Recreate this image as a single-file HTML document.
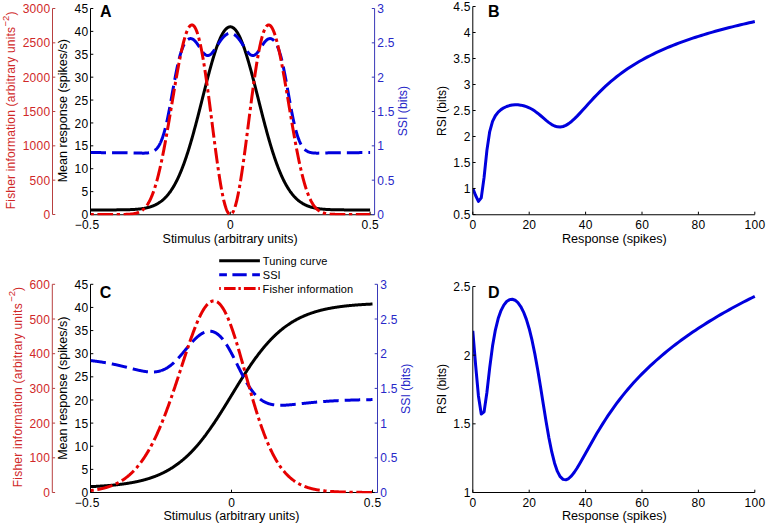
<!DOCTYPE html>
<html><head><meta charset="utf-8"><style>html,body{margin:0;padding:0;background:#fff;overflow:hidden;}svg text{font-family:"Liberation Sans",sans-serif;}</style></head>
<body>
<svg width="767" height="525" viewBox="0 0 767 525" style="display:block">
<rect width="767" height="525" fill="#fff"/>
<g fill="none" stroke-width="1">
<path d="M90.5 8.5 V214.75 H374.6" stroke="#000"/>
<path d="M90.5 214.5 h2.8" stroke="#000"/>
<path d="M90.5 191.61 h2.8" stroke="#000"/>
<path d="M90.5 168.72 h2.8" stroke="#000"/>
<path d="M90.5 145.83 h2.8" stroke="#000"/>
<path d="M90.5 122.94 h2.8" stroke="#000"/>
<path d="M90.5 100.06 h2.8" stroke="#000"/>
<path d="M90.5 77.17 h2.8" stroke="#000"/>
<path d="M90.5 54.28 h2.8" stroke="#000"/>
<path d="M90.5 31.39 h2.8" stroke="#000"/>
<path d="M90.5 8.5 h2.8" stroke="#000"/>
<path d="M90.5 214.5 v-2.8" stroke="#000"/>
<path d="M230.3 214.5 v-2.8" stroke="#000"/>
<path d="M370.1 214.5 v-2.8" stroke="#000"/>
<path d="M52.5 8.5 V214.5" stroke="#b84040"/>
<path d="M52.5 214.5 h2.8" stroke="#b84040"/>
<path d="M52.5 180.17 h2.8" stroke="#b84040"/>
<path d="M52.5 145.83 h2.8" stroke="#b84040"/>
<path d="M52.5 111.5 h2.8" stroke="#b84040"/>
<path d="M52.5 77.17 h2.8" stroke="#b84040"/>
<path d="M52.5 42.83 h2.8" stroke="#b84040"/>
<path d="M52.5 8.5 h2.8" stroke="#b84040"/>
<path d="M374.6 8.5 V214.5" stroke="#3838b8"/>
<path d="M374.6 214.5 h-2.8" stroke="#3838b8"/>
<path d="M374.6 180.17 h-2.8" stroke="#3838b8"/>
<path d="M374.6 145.83 h-2.8" stroke="#3838b8"/>
<path d="M374.6 111.5 h-2.8" stroke="#3838b8"/>
<path d="M374.6 77.17 h-2.8" stroke="#3838b8"/>
<path d="M374.6 42.83 h-2.8" stroke="#3838b8"/>
<path d="M374.6 8.5 h-2.8" stroke="#3838b8"/>
</g>
<clipPath id="clipA"><rect x="90.5" y="-1.5" width="284.1" height="216.8"/></clipPath>
<g clip-path="url(#clipA)" fill="none" stroke-linejoin="round">
<path d="M90.5 209.92 L90.85 209.92 L91.2 209.92 L91.55 209.92 L91.9 209.92 L92.25 209.92 L92.6 209.92 L92.95 209.92 L93.3 209.92 L93.65 209.92 L94 209.92 L94.34 209.92 L94.69 209.92 L95.04 209.92 L95.39 209.92 L95.74 209.92 L96.09 209.92 L96.44 209.92 L96.79 209.92 L97.14 209.92 L97.49 209.92 L97.84 209.92 L98.19 209.92 L98.54 209.92 L98.89 209.92 L99.24 209.92 L99.59 209.92 L99.94 209.92 L100.29 209.92 L100.64 209.92 L100.98 209.92 L101.33 209.92 L101.68 209.92 L102.03 209.92 L102.38 209.92 L102.73 209.92 L103.08 209.92 L103.43 209.92 L103.78 209.92 L104.13 209.92 L104.48 209.91 L104.83 209.91 L105.18 209.91 L105.53 209.91 L105.88 209.91 L106.23 209.91 L106.58 209.91 L106.93 209.91 L107.28 209.91 L107.63 209.91 L107.97 209.91 L108.32 209.91 L108.67 209.91 L109.02 209.91 L109.37 209.91 L109.72 209.91 L110.07 209.9 L110.42 209.9 L110.77 209.9 L111.12 209.9 L111.47 209.9 L111.82 209.9 L112.17 209.9 L112.52 209.9 L112.87 209.9 L113.22 209.89 L113.57 209.89 L113.92 209.89 L114.27 209.89 L114.62 209.89 L114.97 209.89 L115.31 209.88 L115.66 209.88 L116.01 209.88 L116.36 209.88 L116.71 209.87 L117.06 209.87 L117.41 209.87 L117.76 209.87 L118.11 209.86 L118.46 209.86 L118.81 209.86 L119.16 209.85 L119.51 209.85 L119.86 209.85 L120.21 209.84 L120.56 209.84 L120.91 209.84 L121.26 209.83 L121.61 209.83 L121.95 209.82 L122.3 209.82 L122.65 209.81 L123 209.81 L123.35 209.8 L123.7 209.79 L124.05 209.79 L124.4 209.78 L124.75 209.77 L125.1 209.77 L125.45 209.76 L125.8 209.75 L126.15 209.74 L126.5 209.74 L126.85 209.73 L127.2 209.72 L127.55 209.71 L127.9 209.7 L128.25 209.69 L128.6 209.68 L128.94 209.67 L129.29 209.65 L129.64 209.64 L129.99 209.63 L130.34 209.62 L130.69 209.6 L131.04 209.59 L131.39 209.57 L131.74 209.56 L132.09 209.54 L132.44 209.52 L132.79 209.5 L133.14 209.49 L133.49 209.47 L133.84 209.45 L134.19 209.42 L134.54 209.4 L134.89 209.38 L135.24 209.36 L135.59 209.33 L135.94 209.31 L136.28 209.28 L136.63 209.25 L136.98 209.22 L137.33 209.19 L137.68 209.16 L138.03 209.13 L138.38 209.1 L138.73 209.06 L139.08 209.03 L139.43 208.99 L139.78 208.95 L140.13 208.91 L140.48 208.87 L140.83 208.83 L141.18 208.78 L141.53 208.74 L141.88 208.69 L142.23 208.64 L142.58 208.59 L142.93 208.54 L143.27 208.48 L143.62 208.42 L143.97 208.36 L144.32 208.3 L144.67 208.24 L145.02 208.17 L145.37 208.11 L145.72 208.04 L146.07 207.96 L146.42 207.89 L146.77 207.81 L147.12 207.73 L147.47 207.65 L147.82 207.56 L148.17 207.47 L148.52 207.38 L148.87 207.29 L149.22 207.19 L149.57 207.09 L149.92 206.99 L150.26 206.88 L150.61 206.77 L150.96 206.65 L151.31 206.54 L151.66 206.41 L152.01 206.29 L152.36 206.16 L152.71 206.03 L153.06 205.89 L153.41 205.75 L153.76 205.6 L154.11 205.45 L154.46 205.3 L154.81 205.14 L155.16 204.98 L155.51 204.81 L155.86 204.63 L156.21 204.45 L156.56 204.27 L156.91 204.08 L157.25 203.89 L157.6 203.69 L157.95 203.48 L158.3 203.27 L158.65 203.05 L159 202.83 L159.35 202.6 L159.7 202.37 L160.05 202.13 L160.4 201.88 L160.75 201.62 L161.1 201.36 L161.45 201.09 L161.8 200.82 L162.15 200.53 L162.5 200.24 L162.85 199.95 L163.2 199.64 L163.55 199.33 L163.9 199.01 L164.24 198.68 L164.59 198.35 L164.94 198 L165.29 197.65 L165.64 197.29 L165.99 196.92 L166.34 196.54 L166.69 196.16 L167.04 195.76 L167.39 195.35 L167.74 194.94 L168.09 194.52 L168.44 194.08 L168.79 193.64 L169.14 193.19 L169.49 192.72 L169.84 192.25 L170.19 191.77 L170.54 191.28 L170.89 190.77 L171.23 190.26 L171.58 189.73 L171.93 189.2 L172.28 188.65 L172.63 188.1 L172.98 187.53 L173.33 186.95 L173.68 186.36 L174.03 185.75 L174.38 185.14 L174.73 184.52 L175.08 183.88 L175.43 183.23 L175.78 182.57 L176.13 181.9 L176.48 181.21 L176.83 180.51 L177.18 179.81 L177.53 179.08 L177.88 178.35 L178.22 177.6 L178.57 176.85 L178.92 176.07 L179.27 175.29 L179.62 174.49 L179.97 173.68 L180.32 172.86 L180.67 172.03 L181.02 171.18 L181.37 170.32 L181.72 169.45 L182.07 168.56 L182.42 167.67 L182.77 166.75 L183.12 165.83 L183.47 164.89 L183.82 163.95 L184.17 162.98 L184.52 162.01 L184.87 161.02 L185.21 160.02 L185.56 159.01 L185.91 157.99 L186.26 156.95 L186.61 155.9 L186.96 154.84 L187.31 153.77 L187.66 152.68 L188.01 151.58 L188.36 150.47 L188.71 149.35 L189.06 148.22 L189.41 147.08 L189.76 145.92 L190.11 144.76 L190.46 143.58 L190.81 142.4 L191.16 141.2 L191.51 139.99 L191.86 138.77 L192.2 137.55 L192.55 136.31 L192.9 135.06 L193.25 133.8 L193.6 132.54 L193.95 131.27 L194.3 129.98 L194.65 128.69 L195 127.39 L195.35 126.09 L195.7 124.77 L196.05 123.45 L196.4 122.13 L196.75 120.79 L197.1 119.45 L197.45 118.11 L197.8 116.76 L198.15 115.4 L198.5 114.04 L198.85 112.67 L199.19 111.3 L199.54 109.93 L199.89 108.55 L200.24 107.17 L200.59 105.79 L200.94 104.41 L201.29 103.02 L201.64 101.64 L201.99 100.25 L202.34 98.86 L202.69 97.47 L203.04 96.08 L203.39 94.7 L203.74 93.31 L204.09 91.93 L204.44 90.55 L204.79 89.17 L205.14 87.79 L205.49 86.42 L205.84 85.05 L206.18 83.69 L206.53 82.33 L206.88 80.98 L207.23 79.63 L207.58 78.29 L207.93 76.96 L208.28 75.63 L208.63 74.31 L208.98 73 L209.33 71.7 L209.68 70.41 L210.03 69.13 L210.38 67.86 L210.73 66.6 L211.08 65.35 L211.43 64.12 L211.78 62.89 L212.13 61.68 L212.48 60.48 L212.83 59.3 L213.17 58.13 L213.52 56.97 L213.87 55.84 L214.22 54.71 L214.57 53.6 L214.92 52.51 L215.27 51.44 L215.62 50.38 L215.97 49.35 L216.32 48.33 L216.67 47.33 L217.02 46.35 L217.37 45.38 L217.72 44.44 L218.07 43.52 L218.42 42.62 L218.77 41.75 L219.12 40.89 L219.47 40.06 L219.82 39.24 L220.16 38.46 L220.51 37.69 L220.86 36.95 L221.21 36.23 L221.56 35.54 L221.91 34.87 L222.26 34.22 L222.61 33.61 L222.96 33.01 L223.31 32.44 L223.66 31.9 L224.01 31.39 L224.36 30.9 L224.71 30.44 L225.06 30 L225.41 29.59 L225.76 29.21 L226.11 28.86 L226.46 28.53 L226.81 28.24 L227.15 27.97 L227.5 27.72 L227.85 27.51 L228.2 27.33 L228.55 27.17 L228.9 27.04 L229.25 26.94 L229.6 26.87 L229.95 26.83 L230.3 26.81 L230.65 26.83 L231 26.87 L231.35 26.94 L231.7 27.04 L232.05 27.17 L232.4 27.33 L232.75 27.51 L233.1 27.72 L233.45 27.97 L233.79 28.24 L234.14 28.53 L234.49 28.86 L234.84 29.21 L235.19 29.59 L235.54 30 L235.89 30.44 L236.24 30.9 L236.59 31.39 L236.94 31.9 L237.29 32.44 L237.64 33.01 L237.99 33.61 L238.34 34.22 L238.69 34.87 L239.04 35.54 L239.39 36.23 L239.74 36.95 L240.09 37.69 L240.44 38.46 L240.78 39.24 L241.13 40.06 L241.48 40.89 L241.83 41.75 L242.18 42.62 L242.53 43.52 L242.88 44.44 L243.23 45.38 L243.58 46.35 L243.93 47.33 L244.28 48.33 L244.63 49.35 L244.98 50.38 L245.33 51.44 L245.68 52.51 L246.03 53.6 L246.38 54.71 L246.73 55.84 L247.08 56.97 L247.43 58.13 L247.78 59.3 L248.12 60.48 L248.47 61.68 L248.82 62.89 L249.17 64.12 L249.52 65.35 L249.87 66.6 L250.22 67.86 L250.57 69.13 L250.92 70.41 L251.27 71.7 L251.62 73 L251.97 74.31 L252.32 75.63 L252.67 76.96 L253.02 78.29 L253.37 79.63 L253.72 80.98 L254.07 82.33 L254.42 83.69 L254.77 85.05 L255.11 86.42 L255.46 87.79 L255.81 89.17 L256.16 90.55 L256.51 91.93 L256.86 93.31 L257.21 94.7 L257.56 96.08 L257.91 97.47 L258.26 98.86 L258.61 100.25 L258.96 101.64 L259.31 103.02 L259.66 104.41 L260.01 105.79 L260.36 107.17 L260.71 108.55 L261.06 109.93 L261.41 111.3 L261.75 112.67 L262.1 114.04 L262.45 115.4 L262.8 116.76 L263.15 118.11 L263.5 119.45 L263.85 120.79 L264.2 122.13 L264.55 123.45 L264.9 124.77 L265.25 126.09 L265.6 127.39 L265.95 128.69 L266.3 129.98 L266.65 131.27 L267 132.54 L267.35 133.8 L267.7 135.06 L268.05 136.31 L268.4 137.55 L268.75 138.77 L269.09 139.99 L269.44 141.2 L269.79 142.4 L270.14 143.58 L270.49 144.76 L270.84 145.92 L271.19 147.08 L271.54 148.22 L271.89 149.35 L272.24 150.47 L272.59 151.58 L272.94 152.68 L273.29 153.77 L273.64 154.84 L273.99 155.9 L274.34 156.95 L274.69 157.99 L275.04 159.01 L275.39 160.02 L275.74 161.02 L276.08 162.01 L276.43 162.98 L276.78 163.95 L277.13 164.89 L277.48 165.83 L277.83 166.75 L278.18 167.67 L278.53 168.56 L278.88 169.45 L279.23 170.32 L279.58 171.18 L279.93 172.03 L280.28 172.86 L280.63 173.68 L280.98 174.49 L281.33 175.29 L281.68 176.07 L282.03 176.85 L282.38 177.6 L282.73 178.35 L283.07 179.08 L283.42 179.81 L283.77 180.51 L284.12 181.21 L284.47 181.9 L284.82 182.57 L285.17 183.23 L285.52 183.88 L285.87 184.52 L286.22 185.14 L286.57 185.75 L286.92 186.36 L287.27 186.95 L287.62 187.53 L287.97 188.1 L288.32 188.65 L288.67 189.2 L289.02 189.73 L289.37 190.26 L289.72 190.77 L290.06 191.28 L290.41 191.77 L290.76 192.25 L291.11 192.72 L291.46 193.19 L291.81 193.64 L292.16 194.08 L292.51 194.52 L292.86 194.94 L293.21 195.35 L293.56 195.76 L293.91 196.16 L294.26 196.54 L294.61 196.92 L294.96 197.29 L295.31 197.65 L295.66 198 L296.01 198.35 L296.36 198.68 L296.71 199.01 L297.05 199.33 L297.4 199.64 L297.75 199.95 L298.1 200.24 L298.45 200.53 L298.8 200.82 L299.15 201.09 L299.5 201.36 L299.85 201.62 L300.2 201.88 L300.55 202.13 L300.9 202.37 L301.25 202.6 L301.6 202.83 L301.95 203.05 L302.3 203.27 L302.65 203.48 L303 203.69 L303.35 203.89 L303.7 204.08 L304.04 204.27 L304.39 204.45 L304.74 204.63 L305.09 204.81 L305.44 204.98 L305.79 205.14 L306.14 205.3 L306.49 205.45 L306.84 205.6 L307.19 205.75 L307.54 205.89 L307.89 206.03 L308.24 206.16 L308.59 206.29 L308.94 206.41 L309.29 206.54 L309.64 206.65 L309.99 206.77 L310.34 206.88 L310.69 206.99 L311.03 207.09 L311.38 207.19 L311.73 207.29 L312.08 207.38 L312.43 207.47 L312.78 207.56 L313.13 207.65 L313.48 207.73 L313.83 207.81 L314.18 207.89 L314.53 207.96 L314.88 208.04 L315.23 208.11 L315.58 208.17 L315.93 208.24 L316.28 208.3 L316.63 208.36 L316.98 208.42 L317.33 208.48 L317.68 208.54 L318.02 208.59 L318.37 208.64 L318.72 208.69 L319.07 208.74 L319.42 208.78 L319.77 208.83 L320.12 208.87 L320.47 208.91 L320.82 208.95 L321.17 208.99 L321.52 209.03 L321.87 209.06 L322.22 209.1 L322.57 209.13 L322.92 209.16 L323.27 209.19 L323.62 209.22 L323.97 209.25 L324.32 209.28 L324.67 209.31 L325.01 209.33 L325.36 209.36 L325.71 209.38 L326.06 209.4 L326.41 209.42 L326.76 209.45 L327.11 209.47 L327.46 209.49 L327.81 209.5 L328.16 209.52 L328.51 209.54 L328.86 209.56 L329.21 209.57 L329.56 209.59 L329.91 209.6 L330.26 209.62 L330.61 209.63 L330.96 209.64 L331.31 209.65 L331.66 209.67 L332 209.68 L332.35 209.69 L332.7 209.7 L333.05 209.71 L333.4 209.72 L333.75 209.73 L334.1 209.74 L334.45 209.74 L334.8 209.75 L335.15 209.76 L335.5 209.77 L335.85 209.77 L336.2 209.78 L336.55 209.79 L336.9 209.79 L337.25 209.8 L337.6 209.81 L337.95 209.81 L338.3 209.82 L338.65 209.82 L338.99 209.83 L339.34 209.83 L339.69 209.84 L340.04 209.84 L340.39 209.84 L340.74 209.85 L341.09 209.85 L341.44 209.85 L341.79 209.86 L342.14 209.86 L342.49 209.86 L342.84 209.87 L343.19 209.87 L343.54 209.87 L343.89 209.87 L344.24 209.88 L344.59 209.88 L344.94 209.88 L345.29 209.88 L345.63 209.89 L345.98 209.89 L346.33 209.89 L346.68 209.89 L347.03 209.89 L347.38 209.89 L347.73 209.9 L348.08 209.9 L348.43 209.9 L348.78 209.9 L349.13 209.9 L349.48 209.9 L349.83 209.9 L350.18 209.9 L350.53 209.9 L350.88 209.91 L351.23 209.91 L351.58 209.91 L351.93 209.91 L352.28 209.91 L352.62 209.91 L352.97 209.91 L353.32 209.91 L353.67 209.91 L354.02 209.91 L354.37 209.91 L354.72 209.91 L355.07 209.91 L355.42 209.91 L355.77 209.91 L356.12 209.91 L356.47 209.92 L356.82 209.92 L357.17 209.92 L357.52 209.92 L357.87 209.92 L358.22 209.92 L358.57 209.92 L358.92 209.92 L359.27 209.92 L359.62 209.92 L359.96 209.92 L360.31 209.92 L360.66 209.92 L361.01 209.92 L361.36 209.92 L361.71 209.92 L362.06 209.92 L362.41 209.92 L362.76 209.92 L363.11 209.92 L363.46 209.92 L363.81 209.92 L364.16 209.92 L364.51 209.92 L364.86 209.92 L365.21 209.92 L365.56 209.92 L365.91 209.92 L366.26 209.92 L366.61 209.92 L366.95 209.92 L367.3 209.92 L367.65 209.92 L368 209.92 L368.35 209.92 L368.7 209.92 L369.05 209.92 L369.4 209.92 L369.75 209.92 L370.1 209.92" stroke="#000" stroke-width="3"/>
<path d="M90.5 152.62 L90.85 152.62 L91.2 152.62 L91.55 152.62 L91.9 152.62 L92.25 152.62 L92.6 152.62 L92.95 152.62 L93.3 152.62 L93.65 152.62 L94 152.62 L94.34 152.62 L94.69 152.62 L95.04 152.62 L95.39 152.62 L95.74 152.62 L96.09 152.62 L96.44 152.62 L96.79 152.62 L97.14 152.62 L97.49 152.62 L97.84 152.62 L98.19 152.62 L98.54 152.62 L98.89 152.62 L99.24 152.62 L99.59 152.62 L99.94 152.62 L100.29 152.62 L100.64 152.62 L100.98 152.62 L101.33 152.63 L101.68 152.63 L102.03 152.63 L102.38 152.63 L102.73 152.63 L103.08 152.63 L103.43 152.63 L103.78 152.63 L104.13 152.63 L104.48 152.63 L104.83 152.63 L105.18 152.63 L105.53 152.63 L105.88 152.63 L106.23 152.63 L106.58 152.63 L106.93 152.63 L107.28 152.63 L107.63 152.63 L107.97 152.63 L108.32 152.63 L108.67 152.63 L109.02 152.63 L109.37 152.63 L109.72 152.63 L110.07 152.63 L110.42 152.63 L110.77 152.64 L111.12 152.64 L111.47 152.64 L111.82 152.64 L112.17 152.64 L112.52 152.64 L112.87 152.64 L113.22 152.64 L113.57 152.64 L113.92 152.64 L114.27 152.65 L114.62 152.65 L114.97 152.65 L115.31 152.65 L115.66 152.65 L116.01 152.65 L116.36 152.65 L116.71 152.65 L117.06 152.66 L117.41 152.66 L117.76 152.66 L118.11 152.66 L118.46 152.66 L118.81 152.67 L119.16 152.67 L119.51 152.67 L119.86 152.67 L120.21 152.68 L120.56 152.68 L120.91 152.68 L121.26 152.68 L121.61 152.69 L121.95 152.69 L122.3 152.69 L122.65 152.7 L123 152.7 L123.35 152.7 L123.7 152.71 L124.05 152.71 L124.4 152.72 L124.75 152.72 L125.1 152.72 L125.45 152.73 L125.8 152.73 L126.15 152.74 L126.5 152.74 L126.85 152.75 L127.2 152.75 L127.55 152.76 L127.9 152.77 L128.25 152.77 L128.6 152.78 L128.94 152.79 L129.29 152.79 L129.64 152.8 L129.99 152.81 L130.34 152.81 L130.69 152.82 L131.04 152.83 L131.39 152.84 L131.74 152.85 L132.09 152.86 L132.44 152.86 L132.79 152.87 L133.14 152.88 L133.49 152.89 L133.84 152.9 L134.19 152.91 L134.54 152.92 L134.89 152.93 L135.24 152.94 L135.59 152.95 L135.94 152.96 L136.28 152.97 L136.63 152.98 L136.98 152.99 L137.33 153.01 L137.68 153.02 L138.03 153.03 L138.38 153.04 L138.73 153.05 L139.08 153.06 L139.43 153.07 L139.78 153.08 L140.13 153.09 L140.48 153.09 L140.83 153.1 L141.18 153.11 L141.53 153.12 L141.88 153.12 L142.23 153.13 L142.58 153.13 L142.93 153.13 L143.27 153.13 L143.62 153.13 L143.97 153.13 L144.32 153.13 L144.67 153.12 L145.02 153.11 L145.37 153.1 L145.72 153.08 L146.07 153.07 L146.42 153.05 L146.77 153.02 L147.12 152.99 L147.47 152.96 L147.82 152.92 L148.17 152.88 L148.52 152.83 L148.87 152.78 L149.22 152.72 L149.57 152.65 L149.92 152.58 L150.26 152.49 L150.61 152.4 L150.96 152.3 L151.31 152.19 L151.66 152.07 L152.01 151.94 L152.36 151.79 L152.71 151.63 L153.06 151.46 L153.41 151.27 L153.76 151.07 L154.11 150.85 L154.46 150.62 L154.81 150.36 L155.16 150.09 L155.51 149.79 L155.86 149.48 L156.21 149.14 L156.56 148.77 L156.91 148.38 L157.25 147.97 L157.6 147.52 L157.95 147.05 L158.3 146.54 L158.65 146.01 L159 145.44 L159.35 144.84 L159.7 144.2 L160.05 143.52 L160.4 142.8" stroke="#0000dd" stroke-width="3" stroke-dasharray="15.5 6.05"/>
<path d="M160.4 142.8 L160.75 142.05 L161.1 141.26 L161.45 140.42 L161.8 139.54 L162.15 138.62 L162.5 137.65 L162.85 136.63 L163.2 135.58 L163.55 134.47 L163.9 133.32 L164.24 132.11 L164.59 130.87 L164.94 129.57 L165.29 128.23 L165.64 126.84 L165.99 125.4 L166.34 123.91 L166.69 122.39 L167.04 120.81 L167.39 119.2 L167.74 117.54 L168.09 115.85 L168.44 114.11 L168.79 112.35 L169.14 110.54 L169.49 108.71 L169.84 106.86 L170.19 104.97 L170.54 103.07 L170.89 101.14 L171.23 99.2 L171.58 97.25 L171.93 95.3 L172.28 93.33 L172.63 91.37 L172.98 89.41 L173.33 87.45 L173.68 85.51 L174.03 83.58 L174.38 81.67 L174.73 79.77 L175.08 77.91 L175.43 76.06 L175.78 74.25 L176.13 72.48 L176.48 70.74 L176.83 69.03 L177.18 67.37 L177.53 65.75 L177.88 64.18 L178.22 62.65 L178.57 61.17 L178.92 59.74 L179.27 58.35 L179.62 57.02 L179.97 55.74 L180.32 54.51 L180.67 53.34 L181.02 52.21 L181.37 51.13 L181.72 50.11 L182.07 49.13 L182.42 48.21 L182.77 47.33 L183.12 46.51 L183.47 45.72 L183.82 44.99 L184.17 44.3 L184.52 43.66 L184.87 43.05 L185.21 42.49 L185.56 41.98 L185.91 41.5 L186.26 41.06 L186.61 40.66 L186.96 40.29 L187.31 39.97 L187.66 39.68 L188.01 39.42 L188.36 39.21 L188.71 39.02 L189.06 38.87 L189.41 38.75 L189.76 38.66 L190.11 38.61 L190.46 38.59 L190.81 38.6 L191.16 38.64 L191.51 38.71 L191.86 38.82 L192.2 38.95 L192.55 39.11 L192.9 39.31 L193.25 39.53 L193.6 39.78 L193.95 40.05 L194.3 40.36 L194.65 40.69 L195 41.04 L195.35 41.42 L195.7 41.82 L196.05 42.25 L196.4 42.69 L196.75 43.16 L197.1 43.64 L197.45 44.14 L197.8 44.65 L198.15 45.17 L198.5 45.7 L198.85 46.24 L199.19 46.79 L199.54 47.33 L199.89 47.88 L200.24 48.43 L200.59 48.97 L200.94 49.51 L201.29 50.03 L201.64 50.55 L201.99 51.05 L202.34 51.53 L202.69 51.99 L203.04 52.44 L203.39 52.86 L203.74 53.25 L204.09 53.62 L204.44 53.96 L204.79 54.27 L205.14 54.55 L205.49 54.79 L205.84 55 L206.18 55.17 L206.53 55.31 L206.88 55.42 L207.23 55.49 L207.58 55.52 L207.93 55.51 L208.28 55.47 L208.63 55.39 L208.98 55.28 L209.33 55.14 L209.68 54.96 L210.03 54.75 L210.38 54.51 L210.73 54.23 L211.08 53.93 L211.43 53.6 L211.78 53.25 L212.13 52.87 L212.48 52.47 L212.83 52.05 L213.17 51.61 L213.52 51.15 L213.87 50.68 L214.22 50.19 L214.57 49.68 L214.92 49.17 L215.27 48.65 L215.62 48.12 L215.97 47.58 L216.32 47.04 L216.67 46.5 L217.02 45.95 L217.37 45.41 L217.72 44.86 L218.07 44.32 L218.42 43.78 L218.77 43.24 L219.12 42.72 L219.47 42.19 L219.82 41.68 L220.16 41.17 L220.51 40.68 L220.86 40.19 L221.21 39.72 L221.56 39.26 L221.91 38.81 L222.26 38.38 L222.61 37.96 L222.96 37.56 L223.31 37.17 L223.66 36.79 L224.01 36.44 L224.36 36.1 L224.71 35.78 L225.06 35.47 L225.41 35.19 L225.76 34.92 L226.11 34.67 L226.46 34.44 L226.81 34.23 L227.15 34.04 L227.5 33.87 L227.85 33.72 L228.2 33.58 L228.55 33.47 L228.9 33.38 L229.25 33.31 L229.6 33.26 L229.95 33.23 L230.3 33.22 L230.65 33.23 L231 33.26 L231.35 33.31 L231.7 33.38 L232.05 33.47 L232.4 33.58 L232.75 33.72 L233.1 33.87 L233.45 34.04 L233.79 34.23 L234.14 34.44 L234.49 34.67 L234.84 34.92 L235.19 35.19 L235.54 35.47 L235.89 35.78 L236.24 36.1 L236.59 36.44 L236.94 36.79 L237.29 37.17 L237.64 37.56 L237.99 37.96 L238.34 38.38 L238.69 38.81 L239.04 39.26 L239.39 39.72 L239.74 40.19 L240.09 40.68 L240.44 41.17 L240.78 41.68 L241.13 42.19 L241.48 42.72 L241.83 43.24 L242.18 43.78 L242.53 44.32 L242.88 44.86 L243.23 45.41 L243.58 45.95 L243.93 46.5 L244.28 47.04 L244.63 47.58 L244.98 48.12 L245.33 48.65 L245.68 49.17 L246.03 49.68 L246.38 50.19 L246.73 50.68 L247.08 51.15 L247.43 51.61 L247.78 52.05 L248.12 52.47 L248.47 52.87 L248.82 53.25 L249.17 53.6 L249.52 53.93 L249.87 54.23 L250.22 54.51 L250.57 54.75 L250.92 54.96 L251.27 55.14 L251.62 55.28 L251.97 55.39 L252.32 55.47 L252.67 55.51 L253.02 55.52 L253.37 55.49 L253.72 55.42 L254.07 55.31 L254.42 55.17 L254.77 55 L255.11 54.79 L255.46 54.55 L255.81 54.27 L256.16 53.96 L256.51 53.62 L256.86 53.25 L257.21 52.86 L257.56 52.44 L257.91 51.99 L258.26 51.53 L258.61 51.05 L258.96 50.55 L259.31 50.03 L259.66 49.51 L260.01 48.97 L260.36 48.43 L260.71 47.88 L261.06 47.33 L261.41 46.79 L261.75 46.24 L262.1 45.7 L262.45 45.17 L262.8 44.65 L263.15 44.14 L263.5 43.64 L263.85 43.16 L264.2 42.69 L264.55 42.25 L264.9 41.82 L265.25 41.42 L265.6 41.04 L265.95 40.69 L266.3 40.36 L266.65 40.05 L267 39.78 L267.35 39.53 L267.7 39.31 L268.05 39.11 L268.4 38.95 L268.75 38.82 L269.09 38.71 L269.44 38.64 L269.79 38.6 L270.14 38.59 L270.49 38.61 L270.84 38.66 L271.19 38.75 L271.54 38.87 L271.89 39.02 L272.24 39.21 L272.59 39.42 L272.94 39.68 L273.29 39.97 L273.64 40.29 L273.99 40.66 L274.34 41.06 L274.69 41.5 L275.04 41.98 L275.39 42.49 L275.74 43.05 L276.08 43.66 L276.43 44.3 L276.78 44.99 L277.13 45.72 L277.48 46.51 L277.83 47.33 L278.18 48.21 L278.53 49.13 L278.88 50.11 L279.23 51.13 L279.58 52.21 L279.93 53.34 L280.28 54.51 L280.63 55.74 L280.98 57.02 L281.33 58.35 L281.68 59.74 L282.03 61.17 L282.38 62.65 L282.73 64.18 L283.07 65.75 L283.42 67.37 L283.77 69.03 L284.12 70.74 L284.47 72.48 L284.82 74.25 L285.17 76.06 L285.52 77.91 L285.87 79.77 L286.22 81.67 L286.57 83.58 L286.92 85.51 L287.27 87.45 L287.62 89.41 L287.97 91.37 L288.32 93.33 L288.67 95.3 L289.02 97.25 L289.37 99.2 L289.72 101.14 L290.06 103.07 L290.41 104.97 L290.76 106.86 L291.11 108.71 L291.46 110.54 L291.81 112.35 L292.16 114.11 L292.51 115.85 L292.86 117.54 L293.21 119.2 L293.56 120.81 L293.91 122.39 L294.26 123.91 L294.61 125.4 L294.96 126.84 L295.31 128.23 L295.66 129.57 L296.01 130.87 L296.36 132.11 L296.71 133.32 L297.05 134.47 L297.4 135.58 L297.75 136.63 L298.1 137.65 L298.45 138.62 L298.8 139.54 L299.15 140.42 L299.5 141.26 L299.85 142.05 L300.2 142.8 L300.55 143.52 L300.9 144.2 L301.25 144.84 L301.6 145.44 L301.95 146.01 L302.3 146.54 L302.65 147.05 L303 147.52 L303.35 147.97 L303.7 148.38 L304.04 148.77 L304.39 149.14 L304.74 149.48 L305.09 149.79 L305.44 150.09 L305.79 150.36 L306.14 150.62 L306.49 150.85 L306.84 151.07 L307.19 151.27 L307.54 151.46 L307.89 151.63 L308.24 151.79 L308.59 151.94 L308.94 152.07 L309.29 152.19 L309.64 152.3 L309.99 152.4 L310.34 152.49 L310.69 152.58 L311.03 152.65 L311.38 152.72 L311.73 152.78 L312.08 152.83 L312.43 152.88 L312.78 152.92 L313.13 152.96 L313.48 152.99 L313.83 153.02 L314.18 153.05 L314.53 153.07 L314.88 153.08 L315.23 153.1 L315.58 153.11 L315.93 153.12 L316.28 153.13 L316.63 153.13 L316.98 153.13 L317.33 153.13 L317.68 153.13 L318.02 153.13 L318.37 153.13 L318.72 153.12 L319.07 153.12 L319.42 153.11 L319.77 153.1 L320.12 153.09 L320.47 153.09 L320.82 153.08 L321.17 153.07 L321.52 153.06 L321.87 153.05 L322.22 153.04 L322.57 153.03 L322.92 153.02 L323.27 153.01 L323.62 152.99 L323.97 152.98 L324.32 152.97 L324.67 152.96 L325.01 152.95 L325.36 152.94 L325.71 152.93 L326.06 152.92 L326.41 152.91 L326.76 152.9 L327.11 152.89 L327.46 152.88 L327.81 152.87 L328.16 152.86 L328.51 152.86 L328.86 152.85 L329.21 152.84 L329.56 152.83 L329.91 152.82 L330.26 152.81 L330.61 152.81 L330.96 152.8 L331.31 152.79 L331.66 152.79 L332 152.78 L332.35 152.77 L332.7 152.77 L333.05 152.76 L333.4 152.75 L333.75 152.75 L334.1 152.74 L334.45 152.74 L334.8 152.73 L335.15 152.73 L335.5 152.72 L335.85 152.72 L336.2 152.72 L336.55 152.71 L336.9 152.71 L337.25 152.7 L337.6 152.7 L337.95 152.7 L338.3 152.69 L338.65 152.69 L338.99 152.69 L339.34 152.68 L339.69 152.68 L340.04 152.68 L340.39 152.68 L340.74 152.67 L341.09 152.67 L341.44 152.67 L341.79 152.67 L342.14 152.66 L342.49 152.66 L342.84 152.66 L343.19 152.66 L343.54 152.66 L343.89 152.65 L344.24 152.65 L344.59 152.65 L344.94 152.65 L345.29 152.65 L345.63 152.65 L345.98 152.65 L346.33 152.65 L346.68 152.64 L347.03 152.64 L347.38 152.64 L347.73 152.64 L348.08 152.64 L348.43 152.64 L348.78 152.64 L349.13 152.64 L349.48 152.64 L349.83 152.64 L350.18 152.63 L350.53 152.63 L350.88 152.63 L351.23 152.63 L351.58 152.63 L351.93 152.63 L352.28 152.63 L352.62 152.63 L352.97 152.63 L353.32 152.63 L353.67 152.63 L354.02 152.63 L354.37 152.63 L354.72 152.63 L355.07 152.63 L355.42 152.63 L355.77 152.63 L356.12 152.63 L356.47 152.63 L356.82 152.63 L357.17 152.63 L357.52 152.63 L357.87 152.63 L358.22 152.63 L358.57 152.63 L358.92 152.63 L359.27 152.63 L359.62 152.62 L359.96 152.62 L360.31 152.62 L360.66 152.62 L361.01 152.62 L361.36 152.62 L361.71 152.62 L362.06 152.62 L362.41 152.62 L362.76 152.62 L363.11 152.62 L363.46 152.62 L363.81 152.62 L364.16 152.62 L364.51 152.62 L364.86 152.62 L365.21 152.62 L365.56 152.62 L365.91 152.62 L366.26 152.62 L366.61 152.62 L366.95 152.62 L367.3 152.62 L367.65 152.62 L368 152.62 L368.35 152.62 L368.7 152.62 L369.05 152.62 L369.4 152.62 L369.75 152.62 L370.1 152.62" stroke="#0000dd" stroke-width="3" stroke-dasharray="15.5 6.05"/>
<path d="M90.5 214.5 L90.85 214.5 L91.2 214.5 L91.55 214.5 L91.9 214.5 L92.25 214.5 L92.6 214.5 L92.95 214.5 L93.3 214.5 L93.65 214.5 L94 214.5 L94.34 214.5 L94.69 214.5 L95.04 214.5 L95.39 214.5 L95.74 214.5 L96.09 214.5 L96.44 214.5 L96.79 214.5 L97.14 214.5 L97.49 214.5 L97.84 214.5 L98.19 214.5 L98.54 214.5 L98.89 214.5 L99.24 214.5 L99.59 214.5 L99.94 214.5 L100.29 214.5 L100.64 214.5 L100.98 214.5 L101.33 214.5 L101.68 214.5 L102.03 214.5 L102.38 214.5 L102.73 214.5 L103.08 214.5 L103.43 214.5 L103.78 214.5 L104.13 214.5 L104.48 214.5 L104.83 214.5 L105.18 214.5 L105.53 214.5 L105.88 214.5 L106.23 214.5 L106.58 214.5 L106.93 214.5 L107.28 214.5 L107.63 214.5 L107.97 214.5 L108.32 214.5 L108.67 214.5 L109.02 214.5 L109.37 214.5 L109.72 214.5 L110.07 214.5 L110.42 214.5 L110.77 214.5 L111.12 214.5 L111.47 214.5 L111.82 214.5 L112.17 214.5 L112.52 214.5 L112.87 214.5 L113.22 214.5 L113.57 214.49 L113.92 214.49 L114.27 214.49 L114.62 214.49 L114.97 214.49 L115.31 214.49 L115.66 214.49 L116.01 214.49 L116.36 214.49 L116.71 214.49 L117.06 214.49 L117.41 214.49 L117.76 214.48 L118.11 214.48 L118.46 214.48 L118.81 214.48 L119.16 214.48 L119.51 214.47 L119.86 214.47 L120.21 214.47 L120.56 214.47 L120.91 214.46 L121.26 214.46 L121.61 214.46 L121.95 214.45 L122.3 214.45 L122.65 214.44 L123 214.44 L123.35 214.43 L123.7 214.42 L124.05 214.42 L124.4 214.41 L124.75 214.4 L125.1 214.39 L125.45 214.38 L125.8 214.37 L126.15 214.36 L126.5 214.35 L126.85 214.34 L127.2 214.32 L127.55 214.31 L127.9 214.29 L128.25 214.27 L128.6 214.25 L128.94 214.23 L129.29 214.21 L129.64 214.18 L129.99 214.16 L130.34 214.13 L130.69 214.1 L131.04 214.07 L131.39 214.03 L131.74 213.99 L132.09 213.95 L132.44 213.91 L132.79 213.86 L133.14 213.81 L133.49 213.76 L133.84 213.7 L134.19 213.64 L134.54 213.57 L134.89 213.5 L135.24 213.42 L135.59 213.34 L135.94 213.25 L136.28 213.16 L136.63 213.06 L136.98 212.96 L137.33 212.84 L137.68 212.72 L138.03 212.6 L138.38 212.46 L138.73 212.32 L139.08 212.17 L139.43 212.01 L139.78 211.83 L140.13 211.65 L140.48 211.46 L140.83 211.26 L141.18 211.04 L141.53 210.82 L141.88 210.58 L142.23 210.32 L142.58 210.06 L142.93 209.77 L143.27 209.48 L143.62 209.17 L143.97 208.84 L144.32 208.5 L144.67 208.13 L145.02 207.76 L145.37 207.36 L145.72 206.94 L146.07 206.51 L146.42 206.05 L146.77 205.58 L147.12 205.08 L147.47 204.56 L147.82 204.02 L148.17 203.45 L148.52 202.87 L148.87 202.25 L149.22 201.62 L149.57 200.96 L149.92 200.27 L150.26 199.56 L150.61 198.82 L150.96 198.05 L151.31 197.26 L151.66 196.44 L152.01 195.59 L152.36 194.72 L152.71 193.81 L153.06 192.88 L153.41 191.92 L153.76 190.93 L154.11 189.91 L154.46 188.86 L154.81 187.77 L155.16 186.66 L155.51 185.52 L155.86 184.35 L156.21 183.15 L156.56 181.92 L156.91 180.66 L157.25 179.37 L157.6 178.05 L157.95 176.7 L158.3 175.32 L158.65 173.91 L159 172.47 L159.35 171 L159.7 169.5 L160.05 167.98 L160.4 166.43 L160.75 164.85 L161.1 163.24 L161.45 161.61 L161.8 159.95 L162.15 158.26 L162.5 156.55 L162.85 154.81 L163.2 153.06 L163.55 151.27 L163.9 149.47 L164.24 147.64 L164.59 145.79 L164.94 143.92 L165.29 142.03 L165.64 140.12 L165.99 138.2 L166.34 136.25 L166.69 134.29 L167.04 132.31 L167.39 130.32 L167.74 128.32 L168.09 126.3 L168.44 124.27 L168.79 122.23 L169.14 120.18 L169.49 118.12 L169.84 116.05 L170.19 113.98 L170.54 111.9 L170.89 109.82 L171.23 107.73 L171.58 105.64 L171.93 103.55 L172.28 101.46 L172.63 99.37 L172.98 97.29 L173.33 95.2 L173.68 93.13 L174.03 91.06 L174.38 89 L174.73 86.94 L175.08 84.9 L175.43 82.87 L175.78 80.85 L176.13 78.85 L176.48 76.86 L176.83 74.89 L177.18 72.93 L177.53 71 L177.88 69.09 L178.22 67.2 L178.57 65.33 L178.92 63.49 L179.27 61.68 L179.62 59.89 L179.97 58.14 L180.32 56.41 L180.67 54.72 L181.02 53.06 L181.37 51.44 L181.72 49.85 L182.07 48.29 L182.42 46.78 L182.77 45.31 L183.12 43.88 L183.47 42.49 L183.82 41.15 L184.17 39.85 L184.52 38.59 L184.87 37.39 L185.21 36.23 L185.56 35.13 L185.91 34.07 L186.26 33.07 L186.61 32.12 L186.96 31.23 L187.31 30.39 L187.66 29.6 L188.01 28.88 L188.36 28.21 L188.71 27.6 L189.06 27.05 L189.41 26.57 L189.76 26.14 L190.11 25.78 L190.46 25.48 L190.81 25.24 L191.16 25.07 L191.51 24.96 L191.86 24.92 L192.2 24.95 L192.55 25.04 L192.9 25.2 L193.25 25.42 L193.6 25.71 L193.95 26.07 L194.3 26.5 L194.65 26.99 L195 27.56 L195.35 28.19 L195.7 28.89 L196.05 29.65 L196.4 30.48 L196.75 31.38 L197.1 32.35 L197.45 33.39 L197.8 34.49 L198.15 35.65 L198.5 36.88 L198.85 38.18 L199.19 39.54 L199.54 40.96 L199.89 42.44 L200.24 43.99 L200.59 45.6 L200.94 47.26 L201.29 48.99 L201.64 50.77 L201.99 52.61 L202.34 54.5 L202.69 56.45 L203.04 58.45 L203.39 60.5 L203.74 62.6 L204.09 64.75 L204.44 66.95 L204.79 69.19 L205.14 71.47 L205.49 73.8 L205.84 76.16 L206.18 78.57 L206.53 81.01 L206.88 83.49 L207.23 85.99 L207.58 88.53 L207.93 91.1 L208.28 93.7 L208.63 96.31 L208.98 98.95 L209.33 101.62 L209.68 104.3 L210.03 106.99 L210.38 109.7 L210.73 112.42 L211.08 115.15 L211.43 117.88 L211.78 120.62 L212.13 123.37 L212.48 126.11 L212.83 128.85 L213.17 131.58 L213.52 134.31 L213.87 137.03 L214.22 139.73 L214.57 142.42 L214.92 145.09 L215.27 147.75 L215.62 150.38 L215.97 152.99 L216.32 155.57 L216.67 158.12 L217.02 160.65 L217.37 163.14 L217.72 165.59 L218.07 168 L218.42 170.38 L218.77 172.71 L219.12 175 L219.47 177.24 L219.82 179.44 L220.16 181.58 L220.51 183.67 L220.86 185.71 L221.21 187.69 L221.56 189.61 L221.91 191.47 L222.26 193.27 L222.61 195.01 L222.96 196.68 L223.31 198.28 L223.66 199.82 L224.01 201.28 L224.36 202.68 L224.71 204 L225.06 205.25 L225.41 206.42 L225.76 207.52 L226.11 208.54 L226.46 209.48 L226.81 210.35 L227.15 211.13 L227.5 211.83 L227.85 212.46 L228.2 213 L228.55 213.46 L228.9 213.83 L229.25 214.12 L229.6 214.33 L229.95 214.46 L230.3 214.5 L230.65 214.46 L231 214.33 L231.35 214.12 L231.7 213.83 L232.05 213.46 L232.4 213 L232.75 212.46 L233.1 211.83 L233.45 211.13 L233.79 210.35 L234.14 209.48 L234.49 208.54 L234.84 207.52 L235.19 206.42 L235.54 205.25 L235.89 204 L236.24 202.68 L236.59 201.28 L236.94 199.82 L237.29 198.28 L237.64 196.68 L237.99 195.01 L238.34 193.27 L238.69 191.47 L239.04 189.61 L239.39 187.69 L239.74 185.71 L240.09 183.67 L240.44 181.58 L240.78 179.44 L241.13 177.24 L241.48 175 L241.83 172.71 L242.18 170.38 L242.53 168 L242.88 165.59 L243.23 163.14 L243.58 160.65 L243.93 158.12 L244.28 155.57 L244.63 152.99 L244.98 150.38 L245.33 147.75 L245.68 145.09 L246.03 142.42 L246.38 139.73 L246.73 137.03 L247.08 134.31 L247.43 131.58 L247.78 128.85 L248.12 126.11 L248.47 123.37 L248.82 120.62 L249.17 117.88 L249.52 115.15 L249.87 112.42 L250.22 109.7 L250.57 106.99 L250.92 104.3 L251.27 101.62 L251.62 98.95 L251.97 96.31 L252.32 93.7 L252.67 91.1 L253.02 88.53 L253.37 85.99 L253.72 83.49 L254.07 81.01 L254.42 78.57 L254.77 76.16 L255.11 73.8 L255.46 71.47 L255.81 69.19 L256.16 66.95 L256.51 64.75 L256.86 62.6 L257.21 60.5 L257.56 58.45 L257.91 56.45 L258.26 54.5 L258.61 52.61 L258.96 50.77 L259.31 48.99 L259.66 47.26 L260.01 45.6 L260.36 43.99 L260.71 42.44 L261.06 40.96 L261.41 39.54 L261.75 38.18 L262.1 36.88 L262.45 35.65 L262.8 34.49 L263.15 33.39 L263.5 32.35 L263.85 31.38 L264.2 30.48 L264.55 29.65 L264.9 28.89 L265.25 28.19 L265.6 27.56 L265.95 26.99 L266.3 26.5 L266.65 26.07 L267 25.71 L267.35 25.42 L267.7 25.2 L268.05 25.04 L268.4 24.95 L268.75 24.92 L269.09 24.96 L269.44 25.07 L269.79 25.24 L270.14 25.48 L270.49 25.78 L270.84 26.14 L271.19 26.57 L271.54 27.05 L271.89 27.6 L272.24 28.21 L272.59 28.88 L272.94 29.6 L273.29 30.39 L273.64 31.23 L273.99 32.12 L274.34 33.07 L274.69 34.07 L275.04 35.13 L275.39 36.23 L275.74 37.39 L276.08 38.59 L276.43 39.85 L276.78 41.15 L277.13 42.49 L277.48 43.88 L277.83 45.31 L278.18 46.78 L278.53 48.29 L278.88 49.85 L279.23 51.44 L279.58 53.06 L279.93 54.72 L280.28 56.41 L280.63 58.14 L280.98 59.89 L281.33 61.68 L281.68 63.49 L282.03 65.33 L282.38 67.2 L282.73 69.09 L283.07 71 L283.42 72.93 L283.77 74.89 L284.12 76.86 L284.47 78.85 L284.82 80.85 L285.17 82.87 L285.52 84.9 L285.87 86.94 L286.22 89 L286.57 91.06 L286.92 93.13 L287.27 95.2 L287.62 97.29 L287.97 99.37 L288.32 101.46 L288.67 103.55 L289.02 105.64 L289.37 107.73 L289.72 109.82 L290.06 111.9 L290.41 113.98 L290.76 116.05 L291.11 118.12 L291.46 120.18 L291.81 122.23 L292.16 124.27 L292.51 126.3 L292.86 128.32 L293.21 130.32 L293.56 132.31 L293.91 134.29 L294.26 136.25 L294.61 138.2 L294.96 140.12 L295.31 142.03 L295.66 143.92 L296.01 145.79 L296.36 147.64 L296.71 149.47 L297.05 151.27 L297.4 153.06 L297.75 154.81 L298.1 156.55 L298.45 158.26 L298.8 159.95 L299.15 161.61 L299.5 163.24 L299.85 164.85 L300.2 166.43 L300.55 167.98 L300.9 169.5 L301.25 171 L301.6 172.47 L301.95 173.91 L302.3 175.32 L302.65 176.7 L303 178.05 L303.35 179.37 L303.7 180.66 L304.04 181.92 L304.39 183.15 L304.74 184.35 L305.09 185.52 L305.44 186.66 L305.79 187.77 L306.14 188.86 L306.49 189.91 L306.84 190.93 L307.19 191.92 L307.54 192.88 L307.89 193.81 L308.24 194.72 L308.59 195.59 L308.94 196.44 L309.29 197.26 L309.64 198.05 L309.99 198.82 L310.34 199.56 L310.69 200.27 L311.03 200.96 L311.38 201.62 L311.73 202.25 L312.08 202.87 L312.43 203.45 L312.78 204.02 L313.13 204.56 L313.48 205.08 L313.83 205.58 L314.18 206.05 L314.53 206.51 L314.88 206.94 L315.23 207.36 L315.58 207.76 L315.93 208.13 L316.28 208.5 L316.63 208.84 L316.98 209.17 L317.33 209.48 L317.68 209.77 L318.02 210.06 L318.37 210.32 L318.72 210.58 L319.07 210.82 L319.42 211.04 L319.77 211.26 L320.12 211.46 L320.47 211.65 L320.82 211.83 L321.17 212.01 L321.52 212.17 L321.87 212.32 L322.22 212.46 L322.57 212.6 L322.92 212.72 L323.27 212.84 L323.62 212.96 L323.97 213.06 L324.32 213.16 L324.67 213.25 L325.01 213.34 L325.36 213.42 L325.71 213.5 L326.06 213.57 L326.41 213.64 L326.76 213.7 L327.11 213.76 L327.46 213.81 L327.81 213.86 L328.16 213.91 L328.51 213.95 L328.86 213.99 L329.21 214.03 L329.56 214.07 L329.91 214.1 L330.26 214.13 L330.61 214.16 L330.96 214.18 L331.31 214.21 L331.66 214.23 L332 214.25 L332.35 214.27 L332.7 214.29 L333.05 214.31 L333.4 214.32 L333.75 214.34 L334.1 214.35 L334.45 214.36 L334.8 214.37 L335.15 214.38 L335.5 214.39 L335.85 214.4 L336.2 214.41 L336.55 214.42 L336.9 214.42 L337.25 214.43 L337.6 214.44 L337.95 214.44 L338.3 214.45 L338.65 214.45 L338.99 214.46 L339.34 214.46 L339.69 214.46 L340.04 214.47 L340.39 214.47 L340.74 214.47 L341.09 214.47 L341.44 214.48 L341.79 214.48 L342.14 214.48 L342.49 214.48 L342.84 214.48 L343.19 214.49 L343.54 214.49 L343.89 214.49 L344.24 214.49 L344.59 214.49 L344.94 214.49 L345.29 214.49 L345.63 214.49 L345.98 214.49 L346.33 214.49 L346.68 214.49 L347.03 214.49 L347.38 214.5 L347.73 214.5 L348.08 214.5 L348.43 214.5 L348.78 214.5 L349.13 214.5 L349.48 214.5 L349.83 214.5 L350.18 214.5 L350.53 214.5 L350.88 214.5 L351.23 214.5 L351.58 214.5 L351.93 214.5 L352.28 214.5 L352.62 214.5 L352.97 214.5 L353.32 214.5 L353.67 214.5 L354.02 214.5 L354.37 214.5 L354.72 214.5 L355.07 214.5 L355.42 214.5 L355.77 214.5 L356.12 214.5 L356.47 214.5 L356.82 214.5 L357.17 214.5 L357.52 214.5 L357.87 214.5 L358.22 214.5 L358.57 214.5 L358.92 214.5 L359.27 214.5 L359.62 214.5 L359.96 214.5 L360.31 214.5 L360.66 214.5 L361.01 214.5 L361.36 214.5 L361.71 214.5 L362.06 214.5 L362.41 214.5 L362.76 214.5 L363.11 214.5 L363.46 214.5 L363.81 214.5 L364.16 214.5 L364.51 214.5 L364.86 214.5 L365.21 214.5 L365.56 214.5 L365.91 214.5 L366.26 214.5 L366.61 214.5 L366.95 214.5 L367.3 214.5 L367.65 214.5 L368 214.5 L368.35 214.5 L368.7 214.5 L369.05 214.5 L369.4 214.5 L369.75 214.5 L370.1 214.5" stroke="#e60000" stroke-width="3" stroke-dasharray="3.3 3.6 15.7 3.6"/>
</g>
<g font-family="Liberation Sans, sans-serif">
<text x="88.48" y="219.1" text-anchor="end" fill="#000" font-size="12"  letter-spacing="0.28">0</text>
<text x="88.48" y="196.21" text-anchor="end" fill="#000" font-size="12"  letter-spacing="0.28">5</text>
<text x="88.48" y="173.32" text-anchor="end" fill="#000" font-size="12"  letter-spacing="0.28">10</text>
<text x="88.48" y="150.43" text-anchor="end" fill="#000" font-size="12"  letter-spacing="0.28">15</text>
<text x="88.48" y="127.54" text-anchor="end" fill="#000" font-size="12"  letter-spacing="0.28">20</text>
<text x="88.48" y="104.66" text-anchor="end" fill="#000" font-size="12"  letter-spacing="0.28">25</text>
<text x="88.48" y="81.77" text-anchor="end" fill="#000" font-size="12"  letter-spacing="0.28">30</text>
<text x="88.48" y="58.88" text-anchor="end" fill="#000" font-size="12"  letter-spacing="0.28">35</text>
<text x="88.48" y="35.99" text-anchor="end" fill="#000" font-size="12"  letter-spacing="0.28">40</text>
<text x="88.48" y="13.1" text-anchor="end" fill="#000" font-size="12"  letter-spacing="0.28">45</text>
<text x="50.48" y="219.1" text-anchor="end" fill="#d02828" font-size="12"  letter-spacing="0.28">0</text>
<text x="50.48" y="184.77" text-anchor="end" fill="#d02828" font-size="12"  letter-spacing="0.28">500</text>
<text x="50.48" y="150.43" text-anchor="end" fill="#d02828" font-size="12"  letter-spacing="0.28">1000</text>
<text x="50.48" y="116.1" text-anchor="end" fill="#d02828" font-size="12"  letter-spacing="0.28">1500</text>
<text x="50.48" y="81.77" text-anchor="end" fill="#d02828" font-size="12"  letter-spacing="0.28">2000</text>
<text x="50.48" y="47.43" text-anchor="end" fill="#d02828" font-size="12"  letter-spacing="0.28">2500</text>
<text x="50.48" y="13.1" text-anchor="end" fill="#d02828" font-size="12"  letter-spacing="0.28">3000</text>
<text x="377.3" y="219.1" text-anchor="start" fill="#2828c8" font-size="12"  letter-spacing="0.28">0</text>
<text x="377.3" y="184.77" text-anchor="start" fill="#2828c8" font-size="12"  letter-spacing="0.28">0.5</text>
<text x="377.3" y="150.43" text-anchor="start" fill="#2828c8" font-size="12"  letter-spacing="0.28">1</text>
<text x="377.3" y="116.1" text-anchor="start" fill="#2828c8" font-size="12"  letter-spacing="0.28">1.5</text>
<text x="377.3" y="81.77" text-anchor="start" fill="#2828c8" font-size="12"  letter-spacing="0.28">2</text>
<text x="377.3" y="47.43" text-anchor="start" fill="#2828c8" font-size="12"  letter-spacing="0.28">2.5</text>
<text x="377.3" y="13.1" text-anchor="start" fill="#2828c8" font-size="12"  letter-spacing="0.28">3</text>
<text x="87.04" y="229.1" text-anchor="middle" fill="#000" font-size="12"  letter-spacing="0.28">−0.5</text>
<text x="230.44" y="229.1" text-anchor="middle" fill="#000" font-size="12"  letter-spacing="0.28">0</text>
<text x="370.24" y="229.1" text-anchor="middle" fill="#000" font-size="12"  letter-spacing="0.28">0.5</text>
</g>
<g fill="none" stroke-width="1">
<path d="M90.5 284.3 V492.5 H377.5" stroke="#000"/>
<path d="M90.5 492.5 h2.8" stroke="#000"/>
<path d="M90.5 469.37 h2.8" stroke="#000"/>
<path d="M90.5 446.23 h2.8" stroke="#000"/>
<path d="M90.5 423.1 h2.8" stroke="#000"/>
<path d="M90.5 399.97 h2.8" stroke="#000"/>
<path d="M90.5 376.83 h2.8" stroke="#000"/>
<path d="M90.5 353.7 h2.8" stroke="#000"/>
<path d="M90.5 330.57 h2.8" stroke="#000"/>
<path d="M90.5 307.43 h2.8" stroke="#000"/>
<path d="M90.5 284.3 h2.8" stroke="#000"/>
<path d="M90.5 492.5 v-2.8" stroke="#000"/>
<path d="M231.5 492.5 v-2.8" stroke="#000"/>
<path d="M372.5 492.5 v-2.8" stroke="#000"/>
<path d="M52.3 284.3 V492.5" stroke="#b84040"/>
<path d="M52.3 492.5 h2.8" stroke="#b84040"/>
<path d="M52.3 457.8 h2.8" stroke="#b84040"/>
<path d="M52.3 423.1 h2.8" stroke="#b84040"/>
<path d="M52.3 388.4 h2.8" stroke="#b84040"/>
<path d="M52.3 353.7 h2.8" stroke="#b84040"/>
<path d="M52.3 319 h2.8" stroke="#b84040"/>
<path d="M52.3 284.3 h2.8" stroke="#b84040"/>
<path d="M377.5 284.3 V492.5" stroke="#3838b8"/>
<path d="M377.5 492.5 h-2.8" stroke="#3838b8"/>
<path d="M377.5 457.8 h-2.8" stroke="#3838b8"/>
<path d="M377.5 423.1 h-2.8" stroke="#3838b8"/>
<path d="M377.5 388.4 h-2.8" stroke="#3838b8"/>
<path d="M377.5 353.7 h-2.8" stroke="#3838b8"/>
<path d="M377.5 319 h-2.8" stroke="#3838b8"/>
<path d="M377.5 284.3 h-2.8" stroke="#3838b8"/>
</g>
<clipPath id="clipC"><rect x="90.5" y="274.3" width="287" height="219"/></clipPath>
<g clip-path="url(#clipC)" fill="none" stroke-linejoin="round">
<path d="M90.5 486.63 L90.85 486.62 L91.2 486.6 L91.56 486.59 L91.91 486.57 L92.26 486.56 L92.62 486.54 L92.97 486.52 L93.32 486.51 L93.67 486.49 L94.03 486.47 L94.38 486.45 L94.73 486.44 L95.08 486.42 L95.44 486.4 L95.79 486.38 L96.14 486.36 L96.49 486.34 L96.84 486.32 L97.2 486.31 L97.55 486.29 L97.9 486.27 L98.26 486.25 L98.61 486.23 L98.96 486.21 L99.31 486.18 L99.66 486.16 L100.02 486.14 L100.37 486.12 L100.72 486.1 L101.07 486.08 L101.43 486.05 L101.78 486.03 L102.13 486.01 L102.48 485.99 L102.84 485.96 L103.19 485.94 L103.54 485.91 L103.89 485.89 L104.25 485.87 L104.6 485.84 L104.95 485.81 L105.3 485.79 L105.66 485.76 L106.01 485.74 L106.36 485.71 L106.72 485.68 L107.07 485.66 L107.42 485.63 L107.77 485.6 L108.12 485.57 L108.48 485.54 L108.83 485.52 L109.18 485.49 L109.53 485.46 L109.89 485.43 L110.24 485.4 L110.59 485.37 L110.95 485.33 L111.3 485.3 L111.65 485.27 L112 485.24 L112.36 485.21 L112.71 485.17 L113.06 485.14 L113.41 485.11 L113.77 485.07 L114.12 485.04 L114.47 485 L114.82 484.97 L115.18 484.93 L115.53 484.89 L115.88 484.86 L116.23 484.82 L116.59 484.78 L116.94 484.74 L117.29 484.7 L117.64 484.67 L118 484.63 L118.35 484.59 L118.7 484.54 L119.05 484.5 L119.41 484.46 L119.76 484.42 L120.11 484.38 L120.46 484.33 L120.81 484.29 L121.17 484.25 L121.52 484.2 L121.87 484.16 L122.22 484.11 L122.58 484.06 L122.93 484.02 L123.28 483.97 L123.63 483.92 L123.99 483.87 L124.34 483.82 L124.69 483.77 L125.05 483.72 L125.4 483.67 L125.75 483.62 L126.1 483.57 L126.45 483.52 L126.81 483.46 L127.16 483.41 L127.51 483.35 L127.87 483.3 L128.22 483.24 L128.57 483.19 L128.92 483.13 L129.28 483.07 L129.63 483.01 L129.98 482.95 L130.33 482.89 L130.69 482.83 L131.04 482.77 L131.39 482.71 L131.74 482.64 L132.09 482.58 L132.45 482.51 L132.8 482.45 L133.15 482.38 L133.5 482.32 L133.86 482.25 L134.21 482.18 L134.56 482.11 L134.91 482.04 L135.27 481.97 L135.62 481.9 L135.97 481.82 L136.32 481.75 L136.68 481.68 L137.03 481.6 L137.38 481.52 L137.73 481.45 L138.09 481.37 L138.44 481.29 L138.79 481.21 L139.14 481.13 L139.5 481.05 L139.85 480.97 L140.2 480.88 L140.56 480.8 L140.91 480.71 L141.26 480.63 L141.61 480.54 L141.97 480.45 L142.32 480.36 L142.67 480.27 L143.02 480.18 L143.38 480.08 L143.73 479.99 L144.08 479.9 L144.43 479.8 L144.78 479.7 L145.14 479.6 L145.49 479.51 L145.84 479.4 L146.19 479.3 L146.55 479.2 L146.9 479.1 L147.25 478.99 L147.61 478.88 L147.96 478.78 L148.31 478.67 L148.66 478.56 L149.02 478.45 L149.37 478.34 L149.72 478.22 L150.07 478.11 L150.43 477.99 L150.78 477.87 L151.13 477.75 L151.48 477.63 L151.84 477.51 L152.19 477.39 L152.54 477.26 L152.89 477.14 L153.25 477.01 L153.6 476.88 L153.95 476.75 L154.3 476.62 L154.66 476.49 L155.01 476.35 L155.36 476.22 L155.71 476.08 L156.06 475.94 L156.42 475.8 L156.77 475.66 L157.12 475.52 L157.48 475.37 L157.83 475.23 L158.18 475.08 L158.53 474.93 L158.88 474.78 L159.24 474.62 L159.59 474.47 L159.94 474.31 L160.3 474.16 L160.65 474 L161 473.83 L161.35 473.67 L161.7 473.51 L162.06 473.34 L162.41 473.17 L162.76 473 L163.12 472.83 L163.47 472.66 L163.82 472.48 L164.17 472.3 L164.53 472.12 L164.88 471.94 L165.23 471.76 L165.58 471.58 L165.94 471.39 L166.29 471.2 L166.64 471.01 L166.99 470.82 L167.34 470.62 L167.7 470.43 L168.05 470.23 L168.4 470.03 L168.75 469.82 L169.11 469.62 L169.46 469.41 L169.81 469.2 L170.17 468.99 L170.52 468.78 L170.87 468.57 L171.22 468.35 L171.57 468.13 L171.93 467.91 L172.28 467.68 L172.63 467.46 L172.99 467.23 L173.34 467 L173.69 466.77 L174.04 466.53 L174.39 466.29 L174.75 466.05 L175.1 465.81 L175.45 465.57 L175.81 465.32 L176.16 465.07 L176.51 464.82 L176.86 464.57 L177.22 464.31 L177.57 464.06 L177.92 463.79 L178.27 463.53 L178.62 463.27 L178.98 463 L179.33 462.73 L179.68 462.45 L180.03 462.18 L180.39 461.9 L180.74 461.62 L181.09 461.34 L181.44 461.05 L181.8 460.77 L182.15 460.47 L182.5 460.18 L182.86 459.89 L183.21 459.59 L183.56 459.29 L183.91 458.98 L184.26 458.68 L184.62 458.37 L184.97 458.06 L185.32 457.74 L185.68 457.43 L186.03 457.11 L186.38 456.79 L186.73 456.46 L187.09 456.13 L187.44 455.8 L187.79 455.47 L188.14 455.14 L188.5 454.8 L188.85 454.46 L189.2 454.11 L189.55 453.77 L189.91 453.42 L190.26 453.07 L190.61 452.71 L190.96 452.35 L191.31 451.99 L191.67 451.63 L192.02 451.26 L192.37 450.9 L192.72 450.52 L193.08 450.15 L193.43 449.77 L193.78 449.39 L194.13 449.01 L194.49 448.63 L194.84 448.24 L195.19 447.85 L195.55 447.45 L195.9 447.06 L196.25 446.66 L196.6 446.26 L196.95 445.85 L197.31 445.45 L197.66 445.03 L198.01 444.62 L198.37 444.21 L198.72 443.79 L199.07 443.37 L199.42 442.94 L199.78 442.52 L200.13 442.09 L200.48 441.65 L200.83 441.22 L201.19 440.78 L201.54 440.34 L201.89 439.9 L202.24 439.45 L202.59 439.01 L202.95 438.55 L203.3 438.1 L203.65 437.65 L204 437.19 L204.36 436.72 L204.71 436.26 L205.06 435.79 L205.42 435.33 L205.77 434.85 L206.12 434.38 L206.47 433.9 L206.82 433.42 L207.18 432.94 L207.53 432.46 L207.88 431.97 L208.24 431.48 L208.59 430.99 L208.94 430.5 L209.29 430 L209.64 429.5 L210 429 L210.35 428.5 L210.7 427.99 L211.06 427.49 L211.41 426.98 L211.76 426.47 L212.11 425.95 L212.47 425.44 L212.82 424.92 L213.17 424.4 L213.52 423.88 L213.88 423.35 L214.23 422.82 L214.58 422.3 L214.93 421.77 L215.28 421.23 L215.64 420.7 L215.99 420.16 L216.34 419.63 L216.69 419.09 L217.05 418.55 L217.4 418 L217.75 417.46 L218.11 416.91 L218.46 416.36 L218.81 415.82 L219.16 415.26 L219.52 414.71 L219.87 414.16 L220.22 413.6 L220.57 413.05 L220.93 412.49 L221.28 411.93 L221.63 411.37 L221.98 410.81 L222.34 410.25 L222.69 409.68 L223.04 409.12 L223.39 408.55 L223.75 407.98 L224.1 407.42 L224.45 406.85 L224.8 406.28 L225.16 405.71 L225.51 405.13 L225.86 404.56 L226.21 403.99 L226.56 403.42 L226.92 402.84 L227.27 402.27 L227.62 401.69 L227.97 401.12 L228.33 400.54 L228.68 399.96 L229.03 399.39 L229.38 398.81 L229.74 398.23 L230.09 397.65 L230.44 397.07 L230.79 396.5 L231.15 395.92 L231.5 395.34 L231.85 394.76 L232.21 394.18 L232.56 393.61 L232.91 393.03 L233.26 392.45 L233.62 391.87 L233.97 391.29 L234.32 390.72 L234.67 390.14 L235.02 389.56 L235.38 388.99 L235.73 388.41 L236.08 387.84 L236.44 387.26 L236.79 386.69 L237.14 386.12 L237.49 385.55 L237.84 384.97 L238.2 384.4 L238.55 383.83 L238.9 383.26 L239.25 382.7 L239.61 382.13 L239.96 381.56 L240.31 381 L240.66 380.43 L241.02 379.87 L241.37 379.31 L241.72 378.75 L242.07 378.19 L242.43 377.63 L242.78 377.08 L243.13 376.52 L243.48 375.97 L243.84 375.42 L244.19 374.86 L244.54 374.32 L244.9 373.77 L245.25 373.22 L245.6 372.68 L245.95 372.13 L246.31 371.59 L246.66 371.05 L247.01 370.52 L247.36 369.98 L247.72 369.45 L248.07 368.91 L248.42 368.38 L248.77 367.86 L249.12 367.33 L249.48 366.8 L249.83 366.28 L250.18 365.76 L250.53 365.24 L250.89 364.73 L251.24 364.21 L251.59 363.7 L251.94 363.19 L252.3 362.69 L252.65 362.18 L253 361.68 L253.35 361.18 L253.71 360.68 L254.06 360.18 L254.41 359.69 L254.77 359.2 L255.12 358.71 L255.47 358.22 L255.82 357.74 L256.18 357.26 L256.53 356.78 L256.88 356.3 L257.23 355.83 L257.59 355.35 L257.94 354.89 L258.29 354.42 L258.64 353.96 L259 353.49 L259.35 353.03 L259.7 352.58 L260.05 352.13 L260.4 351.67 L260.76 351.23 L261.11 350.78 L261.46 350.34 L261.81 349.9 L262.17 349.46 L262.52 349.03 L262.87 348.59 L263.23 348.16 L263.58 347.74 L263.93 347.31 L264.28 346.89 L264.63 346.47 L264.99 346.06 L265.34 345.65 L265.69 345.23 L266.05 344.83 L266.4 344.42 L266.75 344.02 L267.1 343.62 L267.46 343.23 L267.81 342.83 L268.16 342.44 L268.51 342.05 L268.87 341.67 L269.22 341.29 L269.57 340.91 L269.92 340.53 L270.27 340.16 L270.63 339.78 L270.98 339.42 L271.33 339.05 L271.69 338.69 L272.04 338.33 L272.39 337.97 L272.74 337.61 L273.1 337.26 L273.45 336.91 L273.8 336.57 L274.15 336.22 L274.5 335.88 L274.86 335.54 L275.21 335.21 L275.56 334.88 L275.91 334.55 L276.27 334.22 L276.62 333.89 L276.97 333.57 L277.32 333.25 L277.68 332.94 L278.03 332.62 L278.38 332.31 L278.74 332 L279.09 331.7 L279.44 331.39 L279.79 331.09 L280.14 330.79 L280.5 330.5 L280.85 330.21 L281.2 329.91 L281.56 329.63 L281.91 329.34 L282.26 329.06 L282.61 328.78 L282.97 328.5 L283.32 328.23 L283.67 327.95 L284.02 327.68 L284.38 327.41 L284.73 327.15 L285.08 326.89 L285.43 326.62 L285.78 326.37 L286.14 326.11 L286.49 325.86 L286.84 325.61 L287.19 325.36 L287.55 325.11 L287.9 324.87 L288.25 324.63 L288.61 324.39 L288.96 324.15 L289.31 323.91 L289.66 323.68 L290.01 323.45 L290.37 323.22 L290.72 323 L291.07 322.77 L291.43 322.55 L291.78 322.33 L292.13 322.11 L292.48 321.9 L292.84 321.69 L293.19 321.48 L293.54 321.27 L293.89 321.06 L294.25 320.86 L294.6 320.65 L294.95 320.45 L295.3 320.25 L295.65 320.06 L296.01 319.86 L296.36 319.67 L296.71 319.48 L297.06 319.29 L297.42 319.1 L297.77 318.92 L298.12 318.74 L298.48 318.56 L298.83 318.38 L299.18 318.2 L299.53 318.02 L299.88 317.85 L300.24 317.68 L300.59 317.51 L300.94 317.34 L301.3 317.17 L301.65 317.01 L302 316.85 L302.35 316.68 L302.71 316.52 L303.06 316.37 L303.41 316.21 L303.76 316.06 L304.12 315.9 L304.47 315.75 L304.82 315.6 L305.17 315.45 L305.52 315.31 L305.88 315.16 L306.23 315.02 L306.58 314.88 L306.94 314.74 L307.29 314.6 L307.64 314.46 L307.99 314.33 L308.35 314.19 L308.7 314.06 L309.05 313.93 L309.4 313.8 L309.75 313.67 L310.11 313.54 L310.46 313.42 L310.81 313.29 L311.16 313.17 L311.52 313.05 L311.87 312.93 L312.22 312.81 L312.57 312.69 L312.93 312.57 L313.28 312.46 L313.63 312.34 L313.99 312.23 L314.34 312.12 L314.69 312.01 L315.04 311.9 L315.39 311.8 L315.75 311.69 L316.1 311.58 L316.45 311.48 L316.81 311.38 L317.16 311.28 L317.51 311.17 L317.86 311.08 L318.22 310.98 L318.57 310.88 L318.92 310.78 L319.27 310.69 L319.62 310.6 L319.98 310.5 L320.33 310.41 L320.68 310.32 L321.03 310.23 L321.39 310.14 L321.74 310.05 L322.09 309.97 L322.44 309.88 L322.8 309.8 L323.15 309.71 L323.5 309.63 L323.86 309.55 L324.21 309.47 L324.56 309.39 L324.91 309.31 L325.26 309.23 L325.62 309.16 L325.97 309.08 L326.32 309 L326.68 308.93 L327.03 308.86 L327.38 308.78 L327.73 308.71 L328.09 308.64 L328.44 308.57 L328.79 308.5 L329.14 308.43 L329.5 308.36 L329.85 308.3 L330.2 308.23 L330.55 308.17 L330.9 308.1 L331.26 308.04 L331.61 307.97 L331.96 307.91 L332.31 307.85 L332.67 307.79 L333.02 307.73 L333.37 307.67 L333.73 307.61 L334.08 307.55 L334.43 307.49 L334.78 307.44 L335.13 307.38 L335.49 307.33 L335.84 307.27 L336.19 307.22 L336.55 307.16 L336.9 307.11 L337.25 307.06 L337.6 307.01 L337.96 306.96 L338.31 306.91 L338.66 306.86 L339.01 306.81 L339.37 306.76 L339.72 306.71 L340.07 306.66 L340.42 306.62 L340.77 306.57 L341.13 306.52 L341.48 306.48 L341.83 306.43 L342.19 306.39 L342.54 306.35 L342.89 306.3 L343.24 306.26 L343.6 306.22 L343.95 306.18 L344.3 306.14 L344.65 306.09 L345 306.05 L345.36 306.01 L345.71 305.98 L346.06 305.94 L346.41 305.9 L346.77 305.86 L347.12 305.82 L347.47 305.79 L347.82 305.75 L348.18 305.71 L348.53 305.68 L348.88 305.64 L349.24 305.61 L349.59 305.57 L349.94 305.54 L350.29 305.51 L350.64 305.47 L351 305.44 L351.35 305.41 L351.7 305.38 L352.06 305.35 L352.41 305.31 L352.76 305.28 L353.11 305.25 L353.46 305.22 L353.82 305.19 L354.17 305.16 L354.52 305.14 L354.88 305.11 L355.23 305.08 L355.58 305.05 L355.93 305.02 L356.29 305 L356.64 304.97 L356.99 304.94 L357.34 304.92 L357.69 304.89 L358.05 304.87 L358.4 304.84 L358.75 304.81 L359.11 304.79 L359.46 304.77 L359.81 304.74 L360.16 304.72 L360.51 304.69 L360.87 304.67 L361.22 304.65 L361.57 304.63 L361.93 304.6 L362.28 304.58 L362.63 304.56 L362.98 304.54 L363.33 304.52 L363.69 304.5 L364.04 304.47 L364.39 304.45 L364.75 304.43 L365.1 304.41 L365.45 304.39 L365.8 304.37 L366.16 304.36 L366.51 304.34 L366.86 304.32 L367.21 304.3 L367.56 304.28 L367.92 304.26 L368.27 304.24 L368.62 304.23 L368.98 304.21 L369.33 304.19 L369.68 304.17 L370.03 304.16 L370.38 304.14 L370.74 304.12 L371.09 304.11 L371.44 304.09 L371.8 304.08 L372.15 304.06 L372.5 304.05" stroke="#000" stroke-width="3"/>
<path d="M90.5 360.57 L90.85 360.61 L91.2 360.65 L91.56 360.69 L91.91 360.73 L92.26 360.78 L92.62 360.82 L92.97 360.86 L93.32 360.9 L93.67 360.95 L94.03 360.99 L94.38 361.04 L94.73 361.08 L95.08 361.13 L95.44 361.17 L95.79 361.22 L96.14 361.27 L96.49 361.31 L96.84 361.36 L97.2 361.41 L97.55 361.46 L97.9 361.51 L98.26 361.56 L98.61 361.61 L98.96 361.66 L99.31 361.71 L99.66 361.76 L100.02 361.81 L100.37 361.87 L100.72 361.92 L101.07 361.97 L101.43 362.03 L101.78 362.08 L102.13 362.14 L102.48 362.19 L102.84 362.25 L103.19 362.31 L103.54 362.36 L103.89 362.42 L104.25 362.48 L104.6 362.54 L104.95 362.6 L105.3 362.66 L105.66 362.72 L106.01 362.78 L106.36 362.84 L106.72 362.91 L107.07 362.97 L107.42 363.03 L107.77 363.1 L108.12 363.16 L108.48 363.23 L108.83 363.29 L109.18 363.36 L109.53 363.43 L109.89 363.49 L110.24 363.56 L110.59 363.63 L110.95 363.7 L111.3 363.77 L111.65 363.84 L112 363.91 L112.36 363.98 L112.71 364.05 L113.06 364.12 L113.41 364.2 L113.77 364.27 L114.12 364.35 L114.47 364.42 L114.82 364.49 L115.18 364.57 L115.53 364.65 L115.88 364.72 L116.23 364.8 L116.59 364.88 L116.94 364.96 L117.29 365.03 L117.64 365.11 L118 365.19 L118.35 365.27 L118.7 365.35 L119.05 365.44 L119.41 365.52 L119.76 365.6 L120.11 365.68 L120.46 365.76 L120.81 365.85 L121.17 365.93 L121.52 366.02 L121.87 366.1 L122.22 366.18 L122.58 366.27 L122.93 366.36 L123.28 366.44 L123.63 366.53 L123.99 366.61 L124.34 366.7 L124.69 366.79 L125.05 366.88 L125.4 366.96 L125.75 367.05 L126.1 367.14 L126.45 367.23 L126.81 367.32 L127.16 367.41 L127.51 367.5 L127.87 367.59 L128.22 367.68 L128.57 367.76 L128.92 367.85 L129.28 367.94 L129.63 368.03 L129.98 368.12 L130.33 368.21 L130.69 368.3 L131.04 368.39 L131.39 368.48 L131.74 368.57 L132.09 368.66 L132.45 368.75 L132.8 368.84 L133.15 368.93 L133.5 369.01 L133.86 369.1 L134.21 369.19 L134.56 369.28 L134.91 369.36 L135.27 369.45 L135.62 369.53 L135.97 369.62 L136.32 369.7 L136.68 369.79 L137.03 369.87 L137.38 369.95 L137.73 370.04 L138.09 370.12 L138.44 370.2 L138.79 370.28 L139.14 370.36 L139.5 370.43 L139.85 370.51 L140.2 370.58 L140.56 370.66 L140.91 370.73 L141.26 370.8 L141.61 370.87 L141.97 370.94 L142.32 371.01 L142.67 371.08 L143.02 371.14 L143.38 371.2 L143.73 371.26 L144.08 371.32 L144.43 371.38 L144.78 371.44 L145.14 371.49 L145.49 371.54 L145.84 371.59 L146.19 371.64 L146.55 371.68 L146.9 371.73 L147.25 371.77 L147.61 371.81 L147.96 371.84 L148.31 371.88 L148.66 371.91 L149.02 371.93 L149.37 371.96 L149.72 371.98 L150.07 372 L150.43 372.02 L150.78 372.03 L151.13 372.04 L151.48 372.05 L151.84 372.05 L152.19 372.05 L152.54 372.05 L152.89 372.04 L153.25 372.03 L153.6 372.01 L153.95 371.99 L154.3 371.97 L154.66 371.94 L155.01 371.91 L155.36 371.88 L155.71 371.84 L156.06 371.8 L156.42 371.75 L156.77 371.7 L157.12 371.64 L157.48 371.58 L157.83 371.51 L158.18 371.44 L158.53 371.36 L158.88 371.28 L159.24 371.2 L159.59 371.1 L159.94 371.01 L160.3 370.91 L160.65 370.8 L161 370.69" stroke="#0000dd" stroke-width="3" stroke-dasharray="15.5 6.05"/>
<path d="M161 370.69 L161.35 370.57 L161.7 370.45 L162.06 370.32 L162.41 370.19 L162.76 370.05 L163.12 369.9 L163.47 369.75 L163.82 369.59 L164.17 369.43 L164.53 369.26 L164.88 369.09 L165.23 368.91 L165.58 368.72 L165.94 368.53 L166.29 368.33 L166.64 368.13 L166.99 367.92 L167.34 367.7 L167.7 367.48 L168.05 367.25 L168.4 367.02 L168.75 366.78 L169.11 366.53 L169.46 366.28 L169.81 366.02 L170.17 365.75 L170.52 365.49 L170.87 365.21 L171.22 364.93 L171.57 364.64 L171.93 364.35 L172.28 364.05 L172.63 363.74 L172.99 363.44 L173.34 363.12 L173.69 362.8 L174.04 362.47 L174.39 362.14 L174.75 361.81 L175.1 361.47 L175.45 361.12 L175.81 360.77 L176.16 360.41 L176.51 360.05 L176.86 359.69 L177.22 359.32 L177.57 358.95 L177.92 358.57 L178.27 358.19 L178.62 357.81 L178.98 357.42 L179.33 357.03 L179.68 356.63 L180.03 356.23 L180.39 355.83 L180.74 355.43 L181.09 355.02 L181.44 354.61 L181.8 354.2 L182.15 353.79 L182.5 353.37 L182.86 352.96 L183.21 352.54 L183.56 352.12 L183.91 351.7 L184.26 351.28 L184.62 350.86 L184.97 350.44 L185.32 350.01 L185.68 349.59 L186.03 349.17 L186.38 348.75 L186.73 348.33 L187.09 347.91 L187.44 347.49 L187.79 347.07 L188.14 346.65 L188.5 346.24 L188.85 345.82 L189.2 345.41 L189.55 345 L189.91 344.6 L190.26 344.19 L190.61 343.79 L190.96 343.39 L191.31 343 L191.67 342.61 L192.02 342.22 L192.37 341.84 L192.72 341.46 L193.08 341.08 L193.43 340.71 L193.78 340.34 L194.13 339.98 L194.49 339.63 L194.84 339.28 L195.19 338.93 L195.55 338.59 L195.9 338.26 L196.25 337.93 L196.6 337.6 L196.95 337.29 L197.31 336.98 L197.66 336.67 L198.01 336.38 L198.37 336.09 L198.72 335.8 L199.07 335.53 L199.42 335.26 L199.78 335 L200.13 334.75 L200.48 334.5 L200.83 334.26 L201.19 334.03 L201.54 333.81 L201.89 333.6 L202.24 333.39 L202.59 333.19 L202.95 333 L203.3 332.82 L203.65 332.65 L204 332.49 L204.36 332.34 L204.71 332.2 L205.06 332.06 L205.42 331.94 L205.77 331.82 L206.12 331.71 L206.47 331.62 L206.82 331.53 L207.18 331.46 L207.53 331.39 L207.88 331.33 L208.24 331.29 L208.59 331.25 L208.94 331.23 L209.29 331.21 L209.64 331.21 L210 331.21 L210.35 331.23 L210.7 331.26 L211.06 331.3 L211.41 331.35 L211.76 331.41 L212.11 331.48 L212.47 331.57 L212.82 331.66 L213.17 331.77 L213.52 331.89 L213.88 332.02 L214.23 332.16 L214.58 332.32 L214.93 332.48 L215.28 332.66 L215.64 332.85 L215.99 333.05 L216.34 333.27 L216.69 333.49 L217.05 333.73 L217.4 333.98 L217.75 334.24 L218.11 334.52 L218.46 334.8 L218.81 335.1 L219.16 335.41 L219.52 335.74 L219.87 336.07 L220.22 336.42 L220.57 336.78 L220.93 337.15 L221.28 337.53 L221.63 337.93 L221.98 338.34 L222.34 338.76 L222.69 339.19 L223.04 339.63 L223.39 340.08 L223.75 340.55 L224.1 341.02 L224.45 341.51 L224.8 342.01 L225.16 342.52 L225.51 343.04 L225.86 343.57 L226.21 344.11 L226.56 344.66 L226.92 345.22 L227.27 345.79 L227.62 346.37 L227.97 346.95 L228.33 347.55 L228.68 348.16 L229.03 348.77 L229.38 349.39 L229.74 350.02 L230.09 350.66 L230.44 351.3 L230.79 351.95 L231.15 352.61 L231.5 353.27 L231.85 353.94 L232.21 354.61 L232.56 355.29 L232.91 355.98 L233.26 356.66 L233.62 357.36 L233.97 358.05 L234.32 358.75 L234.67 359.45 L235.02 360.16 L235.38 360.87 L235.73 361.58 L236.08 362.29 L236.44 363 L236.79 363.71 L237.14 364.42 L237.49 365.13 L237.84 365.85 L238.2 366.56 L238.55 367.27 L238.9 367.98 L239.25 368.68 L239.61 369.39 L239.96 370.09 L240.31 370.79 L240.66 371.49 L241.02 372.18 L241.37 372.87 L241.72 373.55 L242.07 374.24 L242.43 374.91 L242.78 375.58 L243.13 376.25 L243.48 376.91 L243.84 377.56 L244.19 378.21 L244.54 378.85 L244.9 379.49 L245.25 380.12 L245.6 380.74 L245.95 381.36 L246.31 381.96 L246.66 382.56 L247.01 383.16 L247.36 383.74 L247.72 384.32 L248.07 384.89 L248.42 385.45 L248.77 386 L249.12 386.55 L249.48 387.08 L249.83 387.61 L250.18 388.13 L250.53 388.64 L250.89 389.14 L251.24 389.63 L251.59 390.12 L251.94 390.59 L252.3 391.06 L252.65 391.51 L253 391.96 L253.35 392.4 L253.71 392.83 L254.06 393.25 L254.41 393.66 L254.77 394.06 L255.12 394.46 L255.47 394.84 L255.82 395.22 L256.18 395.59 L256.53 395.94 L256.88 396.29 L257.23 396.64 L257.59 396.97 L257.94 397.29 L258.29 397.61 L258.64 397.92 L259 398.22 L259.35 398.51 L259.7 398.79 L260.05 399.07 L260.4 399.34 L260.76 399.6 L261.11 399.85 L261.46 400.09 L261.81 400.33 L262.17 400.56 L262.52 400.78 L262.87 401 L263.23 401.21 L263.58 401.41 L263.93 401.61 L264.28 401.79 L264.63 401.98 L264.99 402.15 L265.34 402.32 L265.69 402.49 L266.05 402.64 L266.4 402.8 L266.75 402.94 L267.1 403.08 L267.46 403.22 L267.81 403.35 L268.16 403.47 L268.51 403.59 L268.87 403.7 L269.22 403.81 L269.57 403.92 L269.92 404.01 L270.27 404.11 L270.63 404.2 L270.98 404.28 L271.33 404.37 L271.69 404.44 L272.04 404.52 L272.39 404.59 L272.74 404.65 L273.1 404.71 L273.45 404.77 L273.8 404.82 L274.15 404.87 L274.5 404.92 L274.86 404.97 L275.21 405.01 L275.56 405.04 L275.91 405.08 L276.27 405.11 L276.62 405.14 L276.97 405.17 L277.32 405.19 L277.68 405.21 L278.03 405.23 L278.38 405.24 L278.74 405.26 L279.09 405.27 L279.44 405.28 L279.79 405.28 L280.14 405.29 L280.5 405.29 L280.85 405.29 L281.2 405.29 L281.56 405.29 L281.91 405.28 L282.26 405.28 L282.61 405.27 L282.97 405.26 L283.32 405.25 L283.67 405.24 L284.02 405.22 L284.38 405.21 L284.73 405.19 L285.08 405.17 L285.43 405.15 L285.78 405.13 L286.14 405.11 L286.49 405.09 L286.84 405.07 L287.19 405.04 L287.55 405.02 L287.9 404.99 L288.25 404.97 L288.61 404.94 L288.96 404.91 L289.31 404.88 L289.66 404.85 L290.01 404.82 L290.37 404.79 L290.72 404.76 L291.07 404.72 L291.43 404.69 L291.78 404.66 L292.13 404.62 L292.48 404.59 L292.84 404.56 L293.19 404.52 L293.54 404.48 L293.89 404.45 L294.25 404.41 L294.6 404.38 L294.95 404.34 L295.3 404.3 L295.65 404.26 L296.01 404.23 L296.36 404.19 L296.71 404.15 L297.06 404.11 L297.42 404.08 L297.77 404.04 L298.12 404 L298.48 403.96 L298.83 403.92 L299.18 403.88 L299.53 403.84 L299.88 403.81 L300.24 403.77 L300.59 403.73 L300.94 403.69 L301.3 403.65 L301.65 403.61 L302 403.57 L302.35 403.53 L302.71 403.5 L303.06 403.46 L303.41 403.42 L303.76 403.38 L304.12 403.34 L304.47 403.3 L304.82 403.27 L305.17 403.23 L305.52 403.19 L305.88 403.15 L306.23 403.12 L306.58 403.08 L306.94 403.04 L307.29 403 L307.64 402.97 L307.99 402.93 L308.35 402.89 L308.7 402.86 L309.05 402.82 L309.4 402.79 L309.75 402.75 L310.11 402.71 L310.46 402.68 L310.81 402.64 L311.16 402.61 L311.52 402.57 L311.87 402.54 L312.22 402.51 L312.57 402.47 L312.93 402.44 L313.28 402.4 L313.63 402.37 L313.99 402.34 L314.34 402.31 L314.69 402.27 L315.04 402.24 L315.39 402.21 L315.75 402.18 L316.1 402.14 L316.45 402.11 L316.81 402.08 L317.16 402.05 L317.51 402.02 L317.86 401.99 L318.22 401.96 L318.57 401.93 L318.92 401.9 L319.27 401.87 L319.62 401.84 L319.98 401.81 L320.33 401.78 L320.68 401.75 L321.03 401.73 L321.39 401.7 L321.74 401.67 L322.09 401.64 L322.44 401.62 L322.8 401.59 L323.15 401.56 L323.5 401.53 L323.86 401.51 L324.21 401.48 L324.56 401.46 L324.91 401.43 L325.26 401.41 L325.62 401.38 L325.97 401.36 L326.32 401.33 L326.68 401.31 L327.03 401.28 L327.38 401.26 L327.73 401.23 L328.09 401.21 L328.44 401.19 L328.79 401.16 L329.14 401.14 L329.5 401.12 L329.85 401.1 L330.2 401.07 L330.55 401.05 L330.9 401.03 L331.26 401.01 L331.61 400.99 L331.96 400.97 L332.31 400.95 L332.67 400.93 L333.02 400.91 L333.37 400.88 L333.73 400.86 L334.08 400.85 L334.43 400.83 L334.78 400.81 L335.13 400.79 L335.49 400.77 L335.84 400.75 L336.19 400.73 L336.55 400.71 L336.9 400.69 L337.25 400.68 L337.6 400.66 L337.96 400.64 L338.31 400.62 L338.66 400.61 L339.01 400.59 L339.37 400.57 L339.72 400.55 L340.07 400.54 L340.42 400.52 L340.77 400.51 L341.13 400.49 L341.48 400.47 L341.83 400.46 L342.19 400.44 L342.54 400.43 L342.89 400.41 L343.24 400.4 L343.6 400.38 L343.95 400.37 L344.3 400.35 L344.65 400.34 L345 400.33 L345.36 400.31 L345.71 400.3 L346.06 400.28 L346.41 400.27 L346.77 400.26 L347.12 400.24 L347.47 400.23 L347.82 400.22 L348.18 400.2 L348.53 400.19 L348.88 400.18 L349.24 400.17 L349.59 400.15 L349.94 400.14 L350.29 400.13 L350.64 400.12 L351 400.11 L351.35 400.1 L351.7 400.08 L352.06 400.07 L352.41 400.06 L352.76 400.05 L353.11 400.04 L353.46 400.03 L353.82 400.02 L354.17 400.01 L354.52 400 L354.88 399.99 L355.23 399.98 L355.58 399.97 L355.93 399.96 L356.29 399.95 L356.64 399.94 L356.99 399.93 L357.34 399.92 L357.69 399.91 L358.05 399.9 L358.4 399.89 L358.75 399.88 L359.11 399.87 L359.46 399.86 L359.81 399.85 L360.16 399.85 L360.51 399.84 L360.87 399.83 L361.22 399.82 L361.57 399.81 L361.93 399.8 L362.28 399.8 L362.63 399.79 L362.98 399.78 L363.33 399.77 L363.69 399.76 L364.04 399.76 L364.39 399.75 L364.75 399.74 L365.1 399.74 L365.45 399.73 L365.8 399.72 L366.16 399.71 L366.51 399.71 L366.86 399.7 L367.21 399.69 L367.56 399.69 L367.92 399.68 L368.27 399.67 L368.62 399.67 L368.98 399.66 L369.33 399.65 L369.68 399.65 L370.03 399.64 L370.38 399.64 L370.74 399.63 L371.09 399.62 L371.44 399.62 L371.8 399.61 L372.15 399.61 L372.5 399.6" stroke="#0000dd" stroke-width="3" stroke-dasharray="15.5 6.05"/>
<path d="M90.5 490.56 L90.85 490.52 L91.2 490.48 L91.56 490.43 L91.91 490.39 L92.26 490.34 L92.62 490.29 L92.97 490.24 L93.32 490.19 L93.67 490.14 L94.03 490.09 L94.38 490.04 L94.73 489.98 L95.08 489.93 L95.44 489.87 L95.79 489.82 L96.14 489.76 L96.49 489.7 L96.84 489.64 L97.2 489.57 L97.55 489.51 L97.9 489.45 L98.26 489.38 L98.61 489.31 L98.96 489.24 L99.31 489.17 L99.66 489.1 L100.02 489.03 L100.37 488.96 L100.72 488.88 L101.07 488.8 L101.43 488.72 L101.78 488.64 L102.13 488.56 L102.48 488.48 L102.84 488.4 L103.19 488.31 L103.54 488.22 L103.89 488.13 L104.25 488.04 L104.6 487.95 L104.95 487.85 L105.3 487.75 L105.66 487.66 L106.01 487.55 L106.36 487.45 L106.72 487.35 L107.07 487.24 L107.42 487.13 L107.77 487.02 L108.12 486.91 L108.48 486.8 L108.83 486.68 L109.18 486.56 L109.53 486.44 L109.89 486.32 L110.24 486.19 L110.59 486.06 L110.95 485.94 L111.3 485.8 L111.65 485.67 L112 485.53 L112.36 485.39 L112.71 485.25 L113.06 485.11 L113.41 484.96 L113.77 484.81 L114.12 484.66 L114.47 484.5 L114.82 484.35 L115.18 484.19 L115.53 484.02 L115.88 483.86 L116.23 483.69 L116.59 483.52 L116.94 483.34 L117.29 483.17 L117.64 482.99 L118 482.8 L118.35 482.62 L118.7 482.43 L119.05 482.23 L119.41 482.04 L119.76 481.84 L120.11 481.64 L120.46 481.43 L120.81 481.22 L121.17 481.01 L121.52 480.79 L121.87 480.57 L122.22 480.35 L122.58 480.13 L122.93 479.9 L123.28 479.66 L123.63 479.42 L123.99 479.18 L124.34 478.94 L124.69 478.69 L125.05 478.44 L125.4 478.18 L125.75 477.92 L126.1 477.66 L126.45 477.39 L126.81 477.11 L127.16 476.84 L127.51 476.56 L127.87 476.27 L128.22 475.98 L128.57 475.69 L128.92 475.39 L129.28 475.09 L129.63 474.78 L129.98 474.47 L130.33 474.15 L130.69 473.83 L131.04 473.51 L131.39 473.18 L131.74 472.84 L132.09 472.5 L132.45 472.16 L132.8 471.81 L133.15 471.46 L133.5 471.1 L133.86 470.73 L134.21 470.37 L134.56 469.99 L134.91 469.61 L135.27 469.23 L135.62 468.84 L135.97 468.44 L136.32 468.04 L136.68 467.64 L137.03 467.23 L137.38 466.81 L137.73 466.39 L138.09 465.96 L138.44 465.53 L138.79 465.09 L139.14 464.65 L139.5 464.2 L139.85 463.74 L140.2 463.28 L140.56 462.82 L140.91 462.34 L141.26 461.87 L141.61 461.38 L141.97 460.89 L142.32 460.4 L142.67 459.89 L143.02 459.39 L143.38 458.87 L143.73 458.35 L144.08 457.82 L144.43 457.29 L144.78 456.75 L145.14 456.21 L145.49 455.66 L145.84 455.1 L146.19 454.53 L146.55 453.96 L146.9 453.39 L147.25 452.8 L147.61 452.21 L147.96 451.62 L148.31 451.01 L148.66 450.41 L149.02 449.79 L149.37 449.17 L149.72 448.54 L150.07 447.9 L150.43 447.26 L150.78 446.61 L151.13 445.96 L151.48 445.29 L151.84 444.62 L152.19 443.95 L152.54 443.27 L152.89 442.58 L153.25 441.88 L153.6 441.18 L153.95 440.47 L154.3 439.75 L154.66 439.03 L155.01 438.3 L155.36 437.56 L155.71 436.82 L156.06 436.07 L156.42 435.31 L156.77 434.55 L157.12 433.78 L157.48 433 L157.83 432.22 L158.18 431.43 L158.53 430.63 L158.88 429.83 L159.24 429.02 L159.59 428.2 L159.94 427.38 L160.3 426.55 L160.65 425.71 L161 424.87 L161.35 424.02 L161.7 423.16 L162.06 422.3 L162.41 421.43 L162.76 420.55 L163.12 419.67 L163.47 418.78 L163.82 417.89 L164.17 416.99 L164.53 416.08 L164.88 415.17 L165.23 414.25 L165.58 413.32 L165.94 412.39 L166.29 411.46 L166.64 410.51 L166.99 409.57 L167.34 408.61 L167.7 407.65 L168.05 406.69 L168.4 405.72 L168.75 404.74 L169.11 403.76 L169.46 402.78 L169.81 401.79 L170.17 400.79 L170.52 399.79 L170.87 398.78 L171.22 397.78 L171.57 396.76 L171.93 395.74 L172.28 394.72 L172.63 393.69 L172.99 392.66 L173.34 391.62 L173.69 390.59 L174.04 389.54 L174.39 388.5 L174.75 387.45 L175.1 386.39 L175.45 385.34 L175.81 384.28 L176.16 383.22 L176.51 382.15 L176.86 381.09 L177.22 380.02 L177.57 378.94 L177.92 377.87 L178.27 376.8 L178.62 375.72 L178.98 374.64 L179.33 373.56 L179.68 372.48 L180.03 371.4 L180.39 370.31 L180.74 369.23 L181.09 368.15 L181.44 367.06 L181.8 365.98 L182.15 364.9 L182.5 363.82 L182.86 362.73 L183.21 361.65 L183.56 360.57 L183.91 359.49 L184.26 358.42 L184.62 357.34 L184.97 356.27 L185.32 355.2 L185.68 354.13 L186.03 353.07 L186.38 352 L186.73 350.95 L187.09 349.89 L187.44 348.84 L187.79 347.79 L188.14 346.75 L188.5 345.71 L188.85 344.68 L189.2 343.65 L189.55 342.63 L189.91 341.61 L190.26 340.6 L190.61 339.59 L190.96 338.59 L191.31 337.6 L191.67 336.62 L192.02 335.64 L192.37 334.67 L192.72 333.71 L193.08 332.75 L193.43 331.81 L193.78 330.87 L194.13 329.95 L194.49 329.03 L194.84 328.12 L195.19 327.22 L195.55 326.33 L195.9 325.45 L196.25 324.59 L196.6 323.73 L196.95 322.89 L197.31 322.06 L197.66 321.23 L198.01 320.43 L198.37 319.63 L198.72 318.85 L199.07 318.08 L199.42 317.32 L199.78 316.58 L200.13 315.85 L200.48 315.14 L200.83 314.44 L201.19 313.75 L201.54 313.08 L201.89 312.42 L202.24 311.79 L202.59 311.16 L202.95 310.55 L203.3 309.96 L203.65 309.39 L204 308.83 L204.36 308.29 L204.71 307.77 L205.06 307.26 L205.42 306.78 L205.77 306.31 L206.12 305.86 L206.47 305.42 L206.82 305.01 L207.18 304.61 L207.53 304.24 L207.88 303.88 L208.24 303.54 L208.59 303.23 L208.94 302.93 L209.29 302.65 L209.64 302.39 L210 302.16 L210.35 301.94 L210.7 301.74 L211.06 301.57 L211.41 301.41 L211.76 301.28 L212.11 301.17 L212.47 301.08 L212.82 301.01 L213.17 300.96 L213.52 300.93 L213.88 300.93 L214.23 300.94 L214.58 300.98 L214.93 301.04 L215.28 301.12 L215.64 301.23 L215.99 301.35 L216.34 301.5 L216.69 301.67 L217.05 301.86 L217.4 302.07 L217.75 302.31 L218.11 302.56 L218.46 302.84 L218.81 303.14 L219.16 303.46 L219.52 303.81 L219.87 304.17 L220.22 304.56 L220.57 304.96 L220.93 305.39 L221.28 305.84 L221.63 306.31 L221.98 306.8 L222.34 307.32 L222.69 307.85 L223.04 308.4 L223.39 308.98 L223.75 309.57 L224.1 310.18 L224.45 310.82 L224.8 311.47 L225.16 312.14 L225.51 312.83 L225.86 313.54 L226.21 314.27 L226.56 315.02 L226.92 315.78 L227.27 316.57 L227.62 317.37 L227.97 318.18 L228.33 319.02 L228.68 319.87 L229.03 320.74 L229.38 321.63 L229.74 322.53 L230.09 323.44 L230.44 324.38 L230.79 325.32 L231.15 326.29 L231.5 327.26 L231.85 328.25 L232.21 329.26 L232.56 330.27 L232.91 331.31 L233.26 332.35 L233.62 333.41 L233.97 334.47 L234.32 335.55 L234.67 336.64 L235.02 337.75 L235.38 338.86 L235.73 339.98 L236.08 341.12 L236.44 342.26 L236.79 343.41 L237.14 344.57 L237.49 345.74 L237.84 346.92 L238.2 348.1 L238.55 349.29 L238.9 350.49 L239.25 351.7 L239.61 352.91 L239.96 354.13 L240.31 355.35 L240.66 356.58 L241.02 357.81 L241.37 359.05 L241.72 360.29 L242.07 361.53 L242.43 362.78 L242.78 364.03 L243.13 365.29 L243.48 366.54 L243.84 367.8 L244.19 369.06 L244.54 370.32 L244.9 371.58 L245.25 372.84 L245.6 374.11 L245.95 375.37 L246.31 376.63 L246.66 377.89 L247.01 379.15 L247.36 380.41 L247.72 381.67 L248.07 382.92 L248.42 384.17 L248.77 385.42 L249.12 386.67 L249.48 387.91 L249.83 389.15 L250.18 390.39 L250.53 391.62 L250.89 392.85 L251.24 394.07 L251.59 395.29 L251.94 396.5 L252.3 397.71 L252.65 398.92 L253 400.11 L253.35 401.31 L253.71 402.49 L254.06 403.67 L254.41 404.84 L254.77 406.01 L255.12 407.17 L255.47 408.32 L255.82 409.46 L256.18 410.6 L256.53 411.73 L256.88 412.85 L257.23 413.97 L257.59 415.07 L257.94 416.17 L258.29 417.26 L258.64 418.34 L259 419.41 L259.35 420.48 L259.7 421.53 L260.05 422.58 L260.4 423.62 L260.76 424.64 L261.11 425.66 L261.46 426.67 L261.81 427.67 L262.17 428.66 L262.52 429.64 L262.87 430.62 L263.23 431.58 L263.58 432.53 L263.93 433.47 L264.28 434.41 L264.63 435.33 L264.99 436.24 L265.34 437.15 L265.69 438.04 L266.05 438.92 L266.4 439.8 L266.75 440.66 L267.1 441.51 L267.46 442.36 L267.81 443.19 L268.16 444.01 L268.51 444.83 L268.87 445.63 L269.22 446.43 L269.57 447.21 L269.92 447.98 L270.27 448.75 L270.63 449.5 L270.98 450.25 L271.33 450.98 L271.69 451.71 L272.04 452.42 L272.39 453.13 L272.74 453.82 L273.1 454.51 L273.45 455.19 L273.8 455.86 L274.15 456.51 L274.5 457.16 L274.86 457.8 L275.21 458.43 L275.56 459.05 L275.91 459.67 L276.27 460.27 L276.62 460.86 L276.97 461.45 L277.32 462.03 L277.68 462.59 L278.03 463.15 L278.38 463.7 L278.74 464.24 L279.09 464.78 L279.44 465.3 L279.79 465.82 L280.14 466.33 L280.5 466.83 L280.85 467.32 L281.2 467.81 L281.56 468.28 L281.91 468.75 L282.26 469.21 L282.61 469.66 L282.97 470.11 L283.32 470.55 L283.67 470.98 L284.02 471.4 L284.38 471.82 L284.73 472.23 L285.08 472.63 L285.43 473.03 L285.78 473.42 L286.14 473.8 L286.49 474.17 L286.84 474.54 L287.19 474.9 L287.55 475.26 L287.9 475.61 L288.25 475.95 L288.61 476.29 L288.96 476.62 L289.31 476.94 L289.66 477.26 L290.01 477.58 L290.37 477.88 L290.72 478.18 L291.07 478.48 L291.43 478.77 L291.78 479.06 L292.13 479.34 L292.48 479.61 L292.84 479.88 L293.19 480.14 L293.54 480.4 L293.89 480.66 L294.25 480.91 L294.6 481.15 L294.95 481.39 L295.3 481.63 L295.65 481.86 L296.01 482.08 L296.36 482.31 L296.71 482.52 L297.06 482.74 L297.42 482.95 L297.77 483.15 L298.12 483.35 L298.48 483.55 L298.83 483.74 L299.18 483.93 L299.53 484.12 L299.88 484.3 L300.24 484.48 L300.59 484.65 L300.94 484.82 L301.3 484.99 L301.65 485.15 L302 485.31 L302.35 485.47 L302.71 485.62 L303.06 485.78 L303.41 485.92 L303.76 486.07 L304.12 486.21 L304.47 486.35 L304.82 486.49 L305.17 486.62 L305.52 486.75 L305.88 486.88 L306.23 487 L306.58 487.12 L306.94 487.24 L307.29 487.36 L307.64 487.48 L307.99 487.59 L308.35 487.7 L308.7 487.81 L309.05 487.91 L309.4 488.02 L309.75 488.12 L310.11 488.21 L310.46 488.31 L310.81 488.41 L311.16 488.5 L311.52 488.59 L311.87 488.68 L312.22 488.76 L312.57 488.85 L312.93 488.93 L313.28 489.01 L313.63 489.09 L313.99 489.17 L314.34 489.25 L314.69 489.32 L315.04 489.39 L315.39 489.46 L315.75 489.53 L316.1 489.6 L316.45 489.67 L316.81 489.73 L317.16 489.8 L317.51 489.86 L317.86 489.92 L318.22 489.98 L318.57 490.04 L318.92 490.09 L319.27 490.15 L319.62 490.2 L319.98 490.26 L320.33 490.31 L320.68 490.36 L321.03 490.41 L321.39 490.46 L321.74 490.51 L322.09 490.55 L322.44 490.6 L322.8 490.64 L323.15 490.69 L323.5 490.73 L323.86 490.77 L324.21 490.81 L324.56 490.85 L324.91 490.89 L325.26 490.93 L325.62 490.96 L325.97 491 L326.32 491.03 L326.68 491.07 L327.03 491.1 L327.38 491.13 L327.73 491.17 L328.09 491.2 L328.44 491.23 L328.79 491.26 L329.14 491.29 L329.5 491.32 L329.85 491.34 L330.2 491.37 L330.55 491.4 L330.9 491.42 L331.26 491.45 L331.61 491.47 L331.96 491.5 L332.31 491.52 L332.67 491.55 L333.02 491.57 L333.37 491.59 L333.73 491.61 L334.08 491.63 L334.43 491.65 L334.78 491.67 L335.13 491.69 L335.49 491.71 L335.84 491.73 L336.19 491.75 L336.55 491.77 L336.9 491.78 L337.25 491.8 L337.6 491.82 L337.96 491.83 L338.31 491.85 L338.66 491.87 L339.01 491.88 L339.37 491.9 L339.72 491.91 L340.07 491.92 L340.42 491.94 L340.77 491.95 L341.13 491.96 L341.48 491.98 L341.83 491.99 L342.19 492 L342.54 492.01 L342.89 492.03 L343.24 492.04 L343.6 492.05 L343.95 492.06 L344.3 492.07 L344.65 492.08 L345 492.09 L345.36 492.1 L345.71 492.11 L346.06 492.12 L346.41 492.13 L346.77 492.14 L347.12 492.15 L347.47 492.15 L347.82 492.16 L348.18 492.17 L348.53 492.18 L348.88 492.19 L349.24 492.19 L349.59 492.2 L349.94 492.21 L350.29 492.22 L350.64 492.22 L351 492.23 L351.35 492.24 L351.7 492.24 L352.06 492.25 L352.41 492.25 L352.76 492.26 L353.11 492.27 L353.46 492.27 L353.82 492.28 L354.17 492.28 L354.52 492.29 L354.88 492.29 L355.23 492.3 L355.58 492.3 L355.93 492.31 L356.29 492.31 L356.64 492.32 L356.99 492.32 L357.34 492.33 L357.69 492.33 L358.05 492.33 L358.4 492.34 L358.75 492.34 L359.11 492.35 L359.46 492.35 L359.81 492.35 L360.16 492.36 L360.51 492.36 L360.87 492.36 L361.22 492.37 L361.57 492.37 L361.93 492.37 L362.28 492.38 L362.63 492.38 L362.98 492.38 L363.33 492.39 L363.69 492.39 L364.04 492.39 L364.39 492.39 L364.75 492.4 L365.1 492.4 L365.45 492.4 L365.8 492.4 L366.16 492.41 L366.51 492.41 L366.86 492.41 L367.21 492.41 L367.56 492.41 L367.92 492.42 L368.27 492.42 L368.62 492.42 L368.98 492.42 L369.33 492.42 L369.68 492.43 L370.03 492.43 L370.38 492.43 L370.74 492.43 L371.09 492.43 L371.44 492.44 L371.8 492.44 L372.15 492.44 L372.5 492.44" stroke="#e60000" stroke-width="3" stroke-dasharray="3.3 3.6 15.7 3.6"/>
</g>
<g font-family="Liberation Sans, sans-serif">
<text x="88.48" y="497.1" text-anchor="end" fill="#000" font-size="12"  letter-spacing="0.28">0</text>
<text x="88.48" y="473.97" text-anchor="end" fill="#000" font-size="12"  letter-spacing="0.28">5</text>
<text x="88.48" y="450.83" text-anchor="end" fill="#000" font-size="12"  letter-spacing="0.28">10</text>
<text x="88.48" y="427.7" text-anchor="end" fill="#000" font-size="12"  letter-spacing="0.28">15</text>
<text x="88.48" y="404.57" text-anchor="end" fill="#000" font-size="12"  letter-spacing="0.28">20</text>
<text x="88.48" y="381.43" text-anchor="end" fill="#000" font-size="12"  letter-spacing="0.28">25</text>
<text x="88.48" y="358.3" text-anchor="end" fill="#000" font-size="12"  letter-spacing="0.28">30</text>
<text x="88.48" y="335.17" text-anchor="end" fill="#000" font-size="12"  letter-spacing="0.28">35</text>
<text x="88.48" y="312.03" text-anchor="end" fill="#000" font-size="12"  letter-spacing="0.28">40</text>
<text x="88.48" y="288.9" text-anchor="end" fill="#000" font-size="12"  letter-spacing="0.28">45</text>
<text x="50.28" y="497.1" text-anchor="end" fill="#d02828" font-size="12"  letter-spacing="0.28">0</text>
<text x="50.28" y="462.4" text-anchor="end" fill="#d02828" font-size="12"  letter-spacing="0.28">100</text>
<text x="50.28" y="427.7" text-anchor="end" fill="#d02828" font-size="12"  letter-spacing="0.28">200</text>
<text x="50.28" y="393" text-anchor="end" fill="#d02828" font-size="12"  letter-spacing="0.28">300</text>
<text x="50.28" y="358.3" text-anchor="end" fill="#d02828" font-size="12"  letter-spacing="0.28">400</text>
<text x="50.28" y="323.6" text-anchor="end" fill="#d02828" font-size="12"  letter-spacing="0.28">500</text>
<text x="50.28" y="288.9" text-anchor="end" fill="#d02828" font-size="12"  letter-spacing="0.28">600</text>
<text x="380.2" y="497.1" text-anchor="start" fill="#2828c8" font-size="12"  letter-spacing="0.28">0</text>
<text x="380.2" y="462.4" text-anchor="start" fill="#2828c8" font-size="12"  letter-spacing="0.28">0.5</text>
<text x="380.2" y="427.7" text-anchor="start" fill="#2828c8" font-size="12"  letter-spacing="0.28">1</text>
<text x="380.2" y="393" text-anchor="start" fill="#2828c8" font-size="12"  letter-spacing="0.28">1.5</text>
<text x="380.2" y="358.3" text-anchor="start" fill="#2828c8" font-size="12"  letter-spacing="0.28">2</text>
<text x="380.2" y="323.6" text-anchor="start" fill="#2828c8" font-size="12"  letter-spacing="0.28">2.5</text>
<text x="380.2" y="288.9" text-anchor="start" fill="#2828c8" font-size="12"  letter-spacing="0.28">3</text>
<text x="87.24" y="507.1" text-anchor="middle" fill="#000" font-size="12"  letter-spacing="0.28">−0.5</text>
<text x="231.64" y="507.1" text-anchor="middle" fill="#000" font-size="12"  letter-spacing="0.28">0</text>
<text x="372.64" y="507.1" text-anchor="middle" fill="#000" font-size="12"  letter-spacing="0.28">0.5</text>
</g>
<clipPath id="clipB"><rect x="472.8" y="-3.5" width="287" height="218"/></clipPath>
<path clip-path="url(#clipB)" d="M472.8 188.34 L475.62 195.51 L478.44 201.37 L481.26 197.88 L484.08 177.39 L486.9 150.39 L489.72 131.53 L492.54 121.36 L495.36 115.72 L498.18 112.13 L501 109.63 L503.82 107.81 L506.64 106.5 L509.46 105.59 L512.28 105.04 L515.1 104.79 L517.92 104.82 L520.74 105.14 L523.56 105.73 L526.38 106.61 L529.2 107.8 L532.02 109.3 L534.84 111.1 L537.66 113.19 L540.48 115.5 L543.3 117.93 L546.12 120.37 L548.94 122.63 L551.76 124.56 L554.58 126 L557.4 126.84 L560.22 127.01 L563.04 126.5 L565.86 125.35 L568.68 123.64 L571.5 121.47 L574.32 118.92 L577.14 116.11 L579.96 113.13 L582.78 110.03 L585.6 106.9 L588.42 103.77 L591.24 100.67 L594.06 97.64 L596.88 94.69 L599.7 91.84 L602.52 89.08 L605.34 86.42 L608.16 83.86 L610.98 81.41 L613.8 79.05 L616.62 76.78 L619.44 74.61 L622.26 72.52 L625.08 70.51 L627.9 68.58 L630.72 66.73 L633.54 64.94 L636.36 63.22 L639.18 61.56 L642 59.95 L644.82 58.41 L647.64 56.91 L650.46 55.47 L653.28 54.07 L656.1 52.71 L658.92 51.4 L661.74 50.12 L664.56 48.88 L667.38 47.68 L670.2 46.51 L673.02 45.38 L675.84 44.27 L678.66 43.19 L681.48 42.14 L684.3 41.12 L687.12 40.12 L689.94 39.15 L692.76 38.2 L695.58 37.27 L698.4 36.36 L701.22 35.47 L704.04 34.6 L706.86 33.75 L709.68 32.92 L712.5 32.11 L715.32 31.31 L718.14 30.53 L720.96 29.76 L723.78 29.01 L726.6 28.27 L729.42 27.54 L732.24 26.83 L735.06 26.13 L737.88 25.45 L740.7 24.77 L743.52 24.11 L746.34 23.46 L749.16 22.81 L751.98 22.18 L754.8 21.56" fill="none" stroke="#0000dd" stroke-width="3" stroke-linejoin="round"/>
<g fill="none" stroke-width="1" stroke="#000">
<path d="M472.8 6.5 V214.75 H754.8"/>
<path d="M472.8 214.5 h2.8"/>
<path d="M472.8 188.5 h2.8"/>
<path d="M472.8 162.5 h2.8"/>
<path d="M472.8 136.5 h2.8"/>
<path d="M472.8 110.5 h2.8"/>
<path d="M472.8 84.5 h2.8"/>
<path d="M472.8 58.5 h2.8"/>
<path d="M472.8 32.5 h2.8"/>
<path d="M472.8 6.5 h2.8"/>
<path d="M472.8 214.5 v-2.8"/>
<path d="M529.2 214.5 v-2.8"/>
<path d="M585.6 214.5 v-2.8"/>
<path d="M642 214.5 v-2.8"/>
<path d="M698.4 214.5 v-2.8"/>
<path d="M754.8 214.5 v-2.8"/>
</g>
<g font-family="Liberation Sans, sans-serif">
<text x="470.78" y="219.1" text-anchor="end" fill="#000" font-size="12"  letter-spacing="0.28">0.5</text>
<text x="470.78" y="193.1" text-anchor="end" fill="#000" font-size="12"  letter-spacing="0.28">1</text>
<text x="470.78" y="167.1" text-anchor="end" fill="#000" font-size="12"  letter-spacing="0.28">1.5</text>
<text x="470.78" y="141.1" text-anchor="end" fill="#000" font-size="12"  letter-spacing="0.28">2</text>
<text x="470.78" y="115.1" text-anchor="end" fill="#000" font-size="12"  letter-spacing="0.28">2.5</text>
<text x="470.78" y="89.1" text-anchor="end" fill="#000" font-size="12"  letter-spacing="0.28">3</text>
<text x="470.78" y="63.1" text-anchor="end" fill="#000" font-size="12"  letter-spacing="0.28">3.5</text>
<text x="470.78" y="37.1" text-anchor="end" fill="#000" font-size="12"  letter-spacing="0.28">4</text>
<text x="470.78" y="11.1" text-anchor="end" fill="#000" font-size="12"  letter-spacing="0.28">4.5</text>
<text x="472.94" y="229.1" text-anchor="middle" fill="#000" font-size="12"  letter-spacing="0.28">0</text>
<text x="529.34" y="229.1" text-anchor="middle" fill="#000" font-size="12"  letter-spacing="0.28">20</text>
<text x="585.74" y="229.1" text-anchor="middle" fill="#000" font-size="12"  letter-spacing="0.28">40</text>
<text x="642.14" y="229.1" text-anchor="middle" fill="#000" font-size="12"  letter-spacing="0.28">60</text>
<text x="698.54" y="229.1" text-anchor="middle" fill="#000" font-size="12"  letter-spacing="0.28">80</text>
<text x="754.94" y="229.1" text-anchor="middle" fill="#000" font-size="12"  letter-spacing="0.28">100</text>
</g>
<clipPath id="clipD"><rect x="472.8" y="276.5" width="287" height="216"/></clipPath>
<path clip-path="url(#clipD)" d="M472.8 330.8 L475.62 365.18 L478.44 395.98 L481.26 414.07 L484.08 411.87 L486.9 392.5 L489.72 367.66 L492.54 346.09 L495.36 330.04 L498.18 318.62 L501 310.59 L503.82 305.07 L506.64 301.52 L509.46 299.63 L512.28 299.23 L515.1 300.23 L517.92 302.64 L520.74 306.54 L523.56 312.06 L526.38 319.39 L529.2 328.73 L532.02 340.22 L534.84 353.88 L537.66 369.5 L540.48 386.58 L543.3 404.34 L546.12 421.8 L548.94 437.96 L551.76 451.95 L554.58 463.18 L557.4 471.41 L560.22 476.71 L563.04 479.38 L565.86 479.83 L568.68 478.52 L571.5 475.87 L574.32 472.26 L577.14 467.98 L579.96 463.28 L582.78 458.34 L585.6 453.27 L588.42 448.19 L591.24 443.15 L594.06 438.2 L596.88 433.36 L599.7 428.66 L602.52 424.1 L605.34 419.69 L608.16 415.42 L610.98 411.3 L613.8 407.31 L616.62 403.46 L619.44 399.74 L622.26 396.15 L625.08 392.66 L627.9 389.29 L630.72 386.03 L633.54 382.86 L636.36 379.79 L639.18 376.8 L642 373.9 L644.82 371.08 L647.64 368.33 L650.46 365.65 L653.28 363.05 L656.1 360.5 L658.92 358.02 L661.74 355.6 L664.56 353.23 L667.38 350.91 L670.2 348.64 L673.02 346.43 L675.84 344.25 L678.66 342.12 L681.48 340.04 L684.3 337.99 L687.12 335.98 L689.94 334.01 L692.76 332.08 L695.58 330.18 L698.4 328.31 L701.22 326.47 L704.04 324.66 L706.86 322.89 L709.68 321.14 L712.5 319.42 L715.32 317.72 L718.14 316.05 L720.96 314.4 L723.78 312.78 L726.6 311.18 L729.42 309.61 L732.24 308.05 L735.06 306.52 L737.88 305 L740.7 303.51 L743.52 302.03 L746.34 300.58 L749.16 299.14 L751.98 297.72 L754.8 296.31" fill="none" stroke="#0000dd" stroke-width="3" stroke-linejoin="round"/>
<g fill="none" stroke-width="1" stroke="#000">
<path d="M472.8 286.5 V492.5 H754.8"/>
<path d="M472.8 492.5 h2.8"/>
<path d="M472.8 423.83 h2.8"/>
<path d="M472.8 355.17 h2.8"/>
<path d="M472.8 286.5 h2.8"/>
<path d="M472.8 492.5 v-2.8"/>
<path d="M529.2 492.5 v-2.8"/>
<path d="M585.6 492.5 v-2.8"/>
<path d="M642 492.5 v-2.8"/>
<path d="M698.4 492.5 v-2.8"/>
<path d="M754.8 492.5 v-2.8"/>
</g>
<g font-family="Liberation Sans, sans-serif">
<text x="470.78" y="497.1" text-anchor="end" fill="#000" font-size="12"  letter-spacing="0.28">1</text>
<text x="470.78" y="428.43" text-anchor="end" fill="#000" font-size="12"  letter-spacing="0.28">1.5</text>
<text x="470.78" y="359.77" text-anchor="end" fill="#000" font-size="12"  letter-spacing="0.28">2</text>
<text x="470.78" y="291.1" text-anchor="end" fill="#000" font-size="12"  letter-spacing="0.28">2.5</text>
<text x="472.94" y="507.1" text-anchor="middle" fill="#000" font-size="12"  letter-spacing="0.28">0</text>
<text x="529.34" y="507.1" text-anchor="middle" fill="#000" font-size="12"  letter-spacing="0.28">20</text>
<text x="585.74" y="507.1" text-anchor="middle" fill="#000" font-size="12"  letter-spacing="0.28">40</text>
<text x="642.14" y="507.1" text-anchor="middle" fill="#000" font-size="12"  letter-spacing="0.28">60</text>
<text x="698.54" y="507.1" text-anchor="middle" fill="#000" font-size="12"  letter-spacing="0.28">80</text>
<text x="754.94" y="507.1" text-anchor="middle" fill="#000" font-size="12"  letter-spacing="0.28">100</text>
</g>
<text font-family="Liberation Sans, sans-serif" x="100" y="16.7" font-size="16" fill="#000" text-anchor="start" font-weight="bold">A</text>
<text font-family="Liberation Sans, sans-serif" x="487.9" y="16.6" font-size="16" fill="#000" text-anchor="start" font-weight="bold">B</text>
<text font-family="Liberation Sans, sans-serif" x="99.7" y="298.3" font-size="16" fill="#000" text-anchor="start" font-weight="bold">C</text>
<text font-family="Liberation Sans, sans-serif" x="487.9" y="298.2" font-size="16" fill="#000" text-anchor="start" font-weight="bold">D</text>
<text font-family="Liberation Sans, sans-serif" x="230.15" y="242.7" font-size="12" fill="#000" text-anchor="middle" textLength="135.1" lengthAdjust="spacingAndGlyphs">Stimulus (arbitrary units)</text>
<text font-family="Liberation Sans, sans-serif" x="231.4" y="520.2" font-size="12" fill="#000" text-anchor="middle" textLength="136.0" lengthAdjust="spacingAndGlyphs">Stimulus (arbitrary units)</text>
<text font-family="Liberation Sans, sans-serif" x="614.35" y="242.5" font-size="12" fill="#000" text-anchor="middle" textLength="104.9" lengthAdjust="spacingAndGlyphs">Response (spikes)</text>
<text font-family="Liberation Sans, sans-serif" x="614.35" y="519.6" font-size="12" fill="#000" text-anchor="middle" textLength="104.9" lengthAdjust="spacingAndGlyphs">Response (spikes)</text>
<text font-family="Liberation Sans, sans-serif" transform="translate(67 182.3) rotate(-90)" font-size="12" fill="#000" text-anchor="start" textLength="143.2" lengthAdjust="spacingAndGlyphs">Mean response (spikes/s)</text>
<text font-family="Liberation Sans, sans-serif" transform="translate(67.3 459.8) rotate(-90)" font-size="12" fill="#000" text-anchor="start" textLength="143.2" lengthAdjust="spacingAndGlyphs">Mean response (spikes/s)</text>
<text font-family="Liberation Sans, sans-serif" transform="translate(407.3 136.3) rotate(-90)" font-size="12" fill="#2828c8" text-anchor="start" textLength="50.3" lengthAdjust="spacingAndGlyphs">SSI (bits)</text>
<text font-family="Liberation Sans, sans-serif" transform="translate(409.9 413.9) rotate(-90)" font-size="12" fill="#2828c8" text-anchor="start" textLength="50.3" lengthAdjust="spacingAndGlyphs">SSI (bits)</text>
<text font-family="Liberation Sans, sans-serif" transform="translate(445.9 136.0) rotate(-90)" font-size="12" fill="#000" text-anchor="start">RSI (bits)</text>
<text font-family="Liberation Sans, sans-serif" transform="translate(446 413.9) rotate(-90)" font-size="12" fill="#000" text-anchor="start">RSI (bits)</text>
<text font-family="Liberation Sans, sans-serif" font-size="12" fill="#d02828" transform="translate(15.2 209.2) rotate(-90)" textLength="182.2" lengthAdjust="spacing">Fisher information (arbitrary units</text>
<text font-family="Liberation Sans, sans-serif" font-size="9.5" fill="#d02828" transform="translate(9.1 26.44) rotate(-90)">−2</text>
<text font-family="Liberation Sans, sans-serif" font-size="12" fill="#d02828" transform="translate(15.2 15.5) rotate(-90)">)</text>
<text font-family="Liberation Sans, sans-serif" font-size="12" fill="#d02828" transform="translate(21.6 487.25) rotate(-90)" textLength="183.95" lengthAdjust="spacing">Fisher information (arbitrary units</text>
<text font-family="Liberation Sans, sans-serif" font-size="9.5" fill="#d02828" transform="translate(15.4 301.84) rotate(-90)">−2</text>
<text font-family="Liberation Sans, sans-serif" font-size="12" fill="#d02828" transform="translate(21.6 290.9) rotate(-90)">)</text>
<path d="M219.2 260.7 H259.9" stroke="#000" stroke-width="3"/>
<path d="M219.2 274.7 H259.9" stroke="#0000dd" stroke-width="3" stroke-dasharray="7.7 5.5 14.3 5.5 7.7"/>
<path d="M219.2 288.4 H259.9" stroke="#e60000" stroke-width="3" stroke-dasharray="1.6 3.3 11.5 2.8 2.4 3.1 11.7 2.7 1.6"/>
<g font-family="Liberation Sans, sans-serif" font-size="11"><text x="262.8" y="264.5" textLength="64.6" lengthAdjust="spacing">Tuning curve</text><text x="262.8" y="278.5">SSI</text><text x="262.6" y="292.6" textLength="90.6" lengthAdjust="spacing">Fisher information</text></g>
</svg>
</body></html>
